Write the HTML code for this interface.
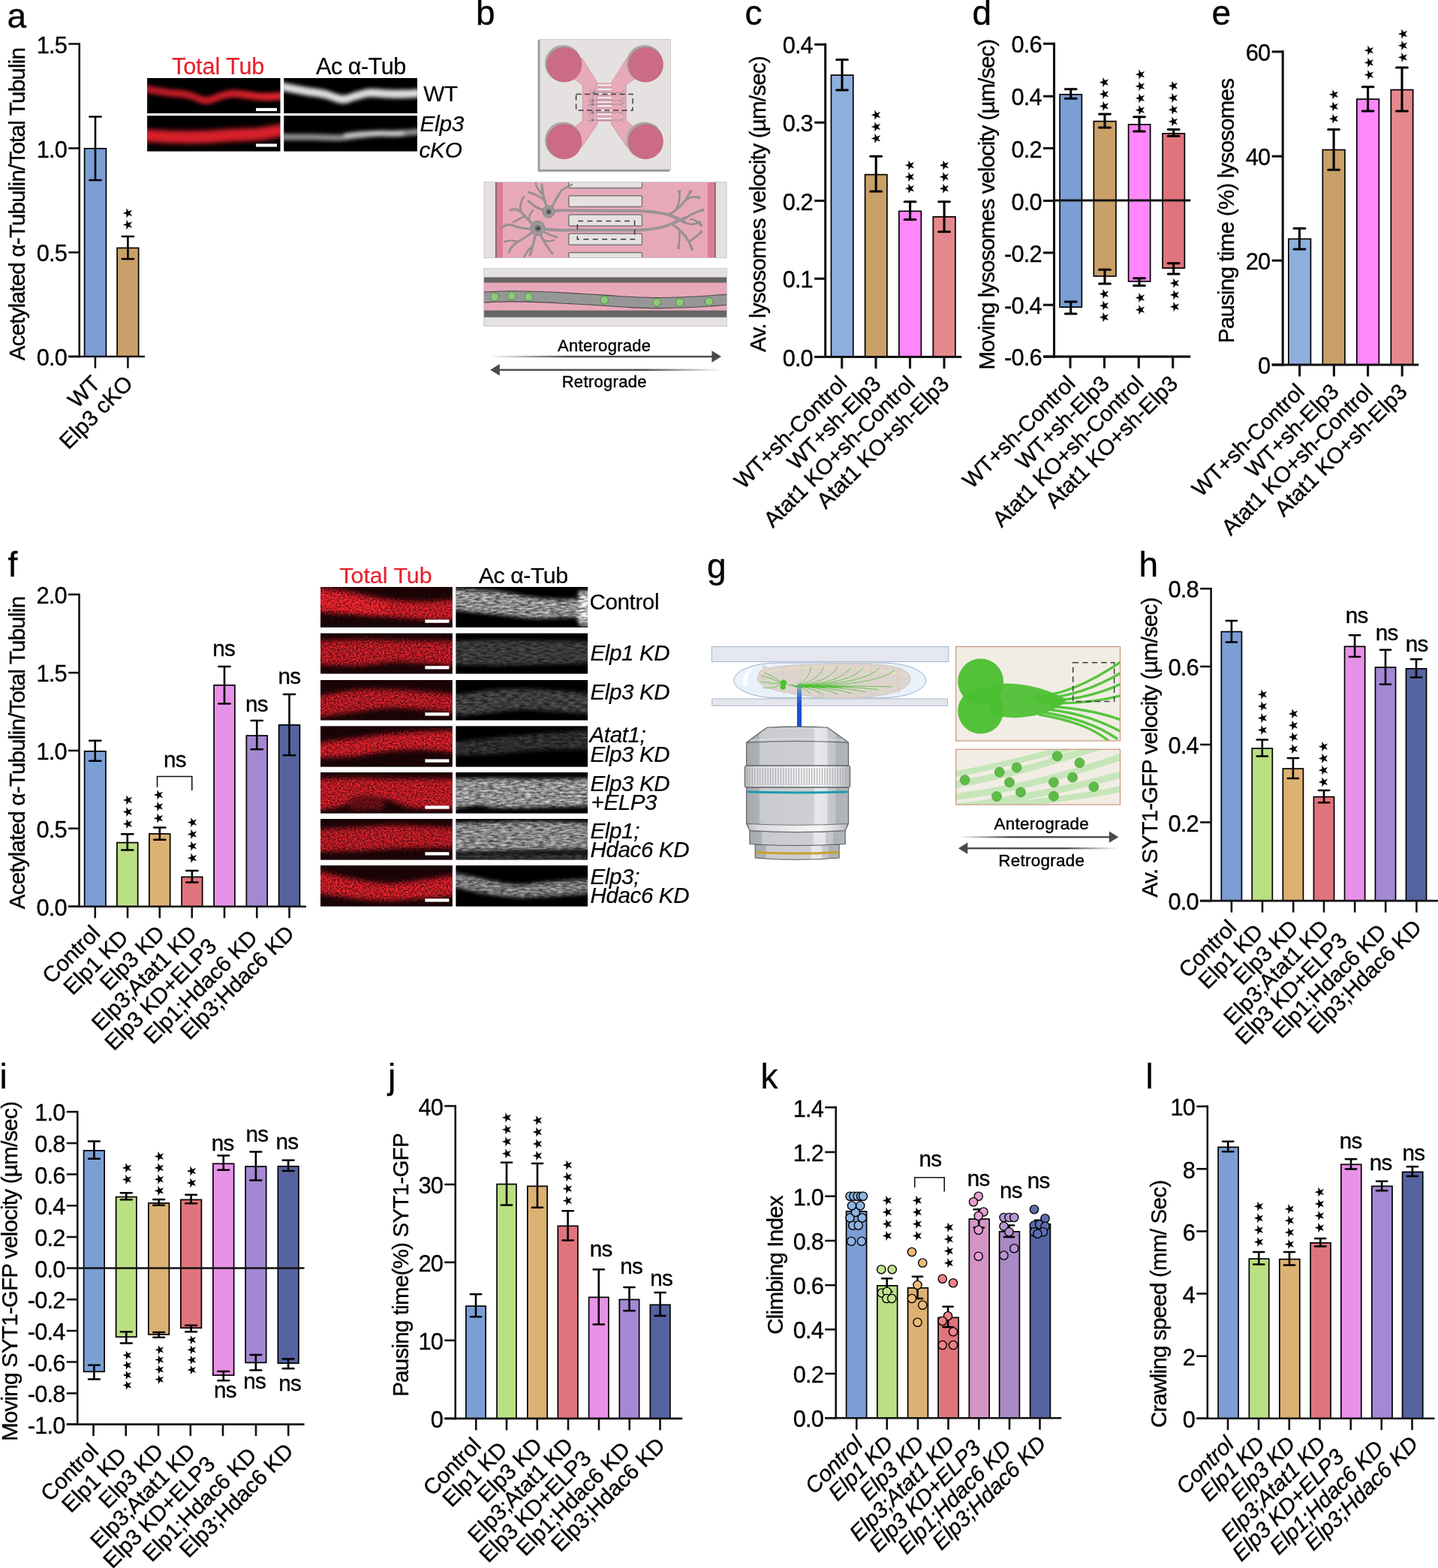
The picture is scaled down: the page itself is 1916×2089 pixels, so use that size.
<!DOCTYPE html>
<html lang="en"><head><meta charset="utf-8"><title>Figure</title>
<style>
html,body{margin:0;padding:0;background:#fff;}
body{width:1916px;height:2089px;overflow:hidden;}
svg{display:block;font-family:"Liberation Sans",sans-serif;}
text{white-space:pre;}
</style></head><body>
<svg xmlns="http://www.w3.org/2000/svg" width="1916" height="2089" viewBox="0 0 1916 2089">
<rect width="1916" height="2089" fill="#fff"/>
<defs><linearGradient id="ga1" x1="0" x2="1" y1="0" y2="0"><stop offset="0" stop-color="#b01a23"/><stop offset="0.6" stop-color="#c41d27"/><stop offset="1" stop-color="#e6222d"/></linearGradient>
<clipPath id="cp1"><rect x="196.20" y="104.10" width="177.20" height="47.00"/></clipPath>
<filter id="fx1" x="186.2" y="94.1" width="197.2" height="67.0" filterUnits="userSpaceOnUse" color-interpolation-filters="sRGB"><feGaussianBlur in="SourceGraphic" stdDeviation="2.6"/></filter>
<clipPath id="cp2"><rect x="378.40" y="104.10" width="177.40" height="47.00"/></clipPath>
<filter id="fx2" x="368.4" y="94.1" width="197.4" height="67.0" filterUnits="userSpaceOnUse" color-interpolation-filters="sRGB"><feGaussianBlur in="SourceGraphic" stdDeviation="2.8"/></filter>
<clipPath id="cp3"><rect x="196.20" y="154.30" width="177.20" height="47.20"/></clipPath>
<filter id="fx3" x="186.2" y="144.3" width="197.2" height="67.2" filterUnits="userSpaceOnUse" color-interpolation-filters="sRGB"><feGaussianBlur in="SourceGraphic" stdDeviation="3.0"/></filter>
<clipPath id="cp4"><rect x="378.40" y="154.30" width="177.40" height="47.20"/></clipPath>
<filter id="fx4" x="368.4" y="144.3" width="197.4" height="67.2" filterUnits="userSpaceOnUse" color-interpolation-filters="sRGB"><feGaussianBlur in="SourceGraphic" stdDeviation="2.6"/></filter>
<clipPath id="cp5"><rect x="427.10" y="782.10" width="175.60" height="53.60"/></clipPath>
<filter id="fx5" x="417.1" y="772.1" width="195.6" height="73.6" filterUnits="userSpaceOnUse" color-interpolation-filters="sRGB"><feGaussianBlur in="SourceGraphic" stdDeviation="3.0" result="b"/><feTurbulence type="fractalNoise" baseFrequency="0.4 0.5" numOctaves="3" seed="3" result="n"/><feColorMatrix in="n" type="matrix" values="1.5 0 0 0 -0.25  1.5 0 0 0 -0.25  1.5 0 0 0 -0.25  0 0 0 0 1" result="g"/><feComposite in="b" in2="g" operator="arithmetic" k1="1.25" k2="0.28" k3="0" k4="0"/></filter>
<clipPath id="cp6"><rect x="607.50" y="782.10" width="175.60" height="53.60"/></clipPath>
<filter id="fx6" x="597.5" y="772.1" width="195.6" height="73.6" filterUnits="userSpaceOnUse" color-interpolation-filters="sRGB"><feGaussianBlur in="SourceGraphic" stdDeviation="2.6" result="b"/><feTurbulence type="fractalNoise" baseFrequency="0.12 0.4" numOctaves="3" seed="20" result="n"/><feColorMatrix in="n" type="matrix" values="1.5 0 0 0 -0.25  1.5 0 0 0 -0.25  1.5 0 0 0 -0.25  0 0 0 0 1" result="g"/><feComposite in="b" in2="g" operator="arithmetic" k1="1.1" k2="0.45" k3="0" k4="0"/></filter>
<clipPath id="cp7"><rect x="427.10" y="843.70" width="175.60" height="53.70"/></clipPath>
<filter id="fx7" x="417.1" y="833.7" width="195.6" height="73.7" filterUnits="userSpaceOnUse" color-interpolation-filters="sRGB"><feGaussianBlur in="SourceGraphic" stdDeviation="3.0" result="b"/><feTurbulence type="fractalNoise" baseFrequency="0.4 0.5" numOctaves="3" seed="4" result="n"/><feColorMatrix in="n" type="matrix" values="1.5 0 0 0 -0.25  1.5 0 0 0 -0.25  1.5 0 0 0 -0.25  0 0 0 0 1" result="g"/><feComposite in="b" in2="g" operator="arithmetic" k1="1.25" k2="0.28" k3="0" k4="0"/></filter>
<clipPath id="cp8"><rect x="607.50" y="843.70" width="175.60" height="53.70"/></clipPath>
<filter id="fx8" x="597.5" y="833.7" width="195.6" height="73.7" filterUnits="userSpaceOnUse" color-interpolation-filters="sRGB"><feGaussianBlur in="SourceGraphic" stdDeviation="2.6" result="b"/><feTurbulence type="fractalNoise" baseFrequency="0.12 0.4" numOctaves="3" seed="21" result="n"/><feColorMatrix in="n" type="matrix" values="1.5 0 0 0 -0.25  1.5 0 0 0 -0.25  1.5 0 0 0 -0.25  0 0 0 0 1" result="g"/><feComposite in="b" in2="g" operator="arithmetic" k1="1.1" k2="0.45" k3="0" k4="0"/></filter>
<clipPath id="cp9"><rect x="427.10" y="905.90" width="175.60" height="53.60"/></clipPath>
<filter id="fx9" x="417.1" y="895.9" width="195.6" height="73.6" filterUnits="userSpaceOnUse" color-interpolation-filters="sRGB"><feGaussianBlur in="SourceGraphic" stdDeviation="3.0" result="b"/><feTurbulence type="fractalNoise" baseFrequency="0.4 0.5" numOctaves="3" seed="5" result="n"/><feColorMatrix in="n" type="matrix" values="1.5 0 0 0 -0.25  1.5 0 0 0 -0.25  1.5 0 0 0 -0.25  0 0 0 0 1" result="g"/><feComposite in="b" in2="g" operator="arithmetic" k1="1.25" k2="0.28" k3="0" k4="0"/></filter>
<clipPath id="cp10"><rect x="607.50" y="905.90" width="175.60" height="53.60"/></clipPath>
<filter id="fx10" x="597.5" y="895.9" width="195.6" height="73.6" filterUnits="userSpaceOnUse" color-interpolation-filters="sRGB"><feGaussianBlur in="SourceGraphic" stdDeviation="2.6" result="b"/><feTurbulence type="fractalNoise" baseFrequency="0.12 0.4" numOctaves="3" seed="22" result="n"/><feColorMatrix in="n" type="matrix" values="1.5 0 0 0 -0.25  1.5 0 0 0 -0.25  1.5 0 0 0 -0.25  0 0 0 0 1" result="g"/><feComposite in="b" in2="g" operator="arithmetic" k1="1.1" k2="0.45" k3="0" k4="0"/></filter>
<clipPath id="cp11"><rect x="427.10" y="967.40" width="175.60" height="54.20"/></clipPath>
<filter id="fx11" x="417.1" y="957.4" width="195.6" height="74.2" filterUnits="userSpaceOnUse" color-interpolation-filters="sRGB"><feGaussianBlur in="SourceGraphic" stdDeviation="3.0" result="b"/><feTurbulence type="fractalNoise" baseFrequency="0.4 0.5" numOctaves="3" seed="6" result="n"/><feColorMatrix in="n" type="matrix" values="1.5 0 0 0 -0.25  1.5 0 0 0 -0.25  1.5 0 0 0 -0.25  0 0 0 0 1" result="g"/><feComposite in="b" in2="g" operator="arithmetic" k1="1.25" k2="0.28" k3="0" k4="0"/></filter>
<clipPath id="cp12"><rect x="607.50" y="967.40" width="175.60" height="54.20"/></clipPath>
<filter id="fx12" x="597.5" y="957.4" width="195.6" height="74.2" filterUnits="userSpaceOnUse" color-interpolation-filters="sRGB"><feGaussianBlur in="SourceGraphic" stdDeviation="2.6" result="b"/><feTurbulence type="fractalNoise" baseFrequency="0.12 0.4" numOctaves="3" seed="23" result="n"/><feColorMatrix in="n" type="matrix" values="1.5 0 0 0 -0.25  1.5 0 0 0 -0.25  1.5 0 0 0 -0.25  0 0 0 0 1" result="g"/><feComposite in="b" in2="g" operator="arithmetic" k1="1.1" k2="0.45" k3="0" k4="0"/></filter>
<clipPath id="cp13"><rect x="427.10" y="1029.00" width="175.60" height="54.60"/></clipPath>
<filter id="fx13" x="417.1" y="1019.0" width="195.6" height="74.6" filterUnits="userSpaceOnUse" color-interpolation-filters="sRGB"><feGaussianBlur in="SourceGraphic" stdDeviation="3.0" result="b"/><feTurbulence type="fractalNoise" baseFrequency="0.4 0.5" numOctaves="3" seed="7" result="n"/><feColorMatrix in="n" type="matrix" values="1.5 0 0 0 -0.25  1.5 0 0 0 -0.25  1.5 0 0 0 -0.25  0 0 0 0 1" result="g"/><feComposite in="b" in2="g" operator="arithmetic" k1="1.25" k2="0.28" k3="0" k4="0"/></filter>
<clipPath id="cp14"><rect x="607.50" y="1029.00" width="175.60" height="54.60"/></clipPath>
<filter id="fx14" x="597.5" y="1019.0" width="195.6" height="74.6" filterUnits="userSpaceOnUse" color-interpolation-filters="sRGB"><feGaussianBlur in="SourceGraphic" stdDeviation="2.6" result="b"/><feTurbulence type="fractalNoise" baseFrequency="0.12 0.4" numOctaves="3" seed="24" result="n"/><feColorMatrix in="n" type="matrix" values="1.5 0 0 0 -0.25  1.5 0 0 0 -0.25  1.5 0 0 0 -0.25  0 0 0 0 1" result="g"/><feComposite in="b" in2="g" operator="arithmetic" k1="1.1" k2="0.45" k3="0" k4="0"/></filter>
<clipPath id="cp15"><rect x="427.10" y="1091.00" width="175.60" height="54.40"/></clipPath>
<filter id="fx15" x="417.1" y="1081.0" width="195.6" height="74.4" filterUnits="userSpaceOnUse" color-interpolation-filters="sRGB"><feGaussianBlur in="SourceGraphic" stdDeviation="3.0" result="b"/><feTurbulence type="fractalNoise" baseFrequency="0.4 0.5" numOctaves="3" seed="8" result="n"/><feColorMatrix in="n" type="matrix" values="1.5 0 0 0 -0.25  1.5 0 0 0 -0.25  1.5 0 0 0 -0.25  0 0 0 0 1" result="g"/><feComposite in="b" in2="g" operator="arithmetic" k1="1.25" k2="0.28" k3="0" k4="0"/></filter>
<clipPath id="cp16"><rect x="607.50" y="1091.00" width="175.60" height="54.40"/></clipPath>
<filter id="fx16" x="597.5" y="1081.0" width="195.6" height="74.4" filterUnits="userSpaceOnUse" color-interpolation-filters="sRGB"><feGaussianBlur in="SourceGraphic" stdDeviation="2.6" result="b"/><feTurbulence type="fractalNoise" baseFrequency="0.12 0.4" numOctaves="3" seed="25" result="n"/><feColorMatrix in="n" type="matrix" values="1.5 0 0 0 -0.25  1.5 0 0 0 -0.25  1.5 0 0 0 -0.25  0 0 0 0 1" result="g"/><feComposite in="b" in2="g" operator="arithmetic" k1="1.1" k2="0.45" k3="0" k4="0"/></filter>
<clipPath id="cp17"><rect x="427.10" y="1153.00" width="175.60" height="54.40"/></clipPath>
<filter id="fx17" x="417.1" y="1143.0" width="195.6" height="74.4" filterUnits="userSpaceOnUse" color-interpolation-filters="sRGB"><feGaussianBlur in="SourceGraphic" stdDeviation="3.0" result="b"/><feTurbulence type="fractalNoise" baseFrequency="0.4 0.5" numOctaves="3" seed="9" result="n"/><feColorMatrix in="n" type="matrix" values="1.5 0 0 0 -0.25  1.5 0 0 0 -0.25  1.5 0 0 0 -0.25  0 0 0 0 1" result="g"/><feComposite in="b" in2="g" operator="arithmetic" k1="1.25" k2="0.28" k3="0" k4="0"/></filter>
<clipPath id="cp18"><rect x="607.50" y="1153.00" width="175.60" height="54.40"/></clipPath>
<filter id="fx18" x="597.5" y="1143.0" width="195.6" height="74.4" filterUnits="userSpaceOnUse" color-interpolation-filters="sRGB"><feGaussianBlur in="SourceGraphic" stdDeviation="2.6" result="b"/><feTurbulence type="fractalNoise" baseFrequency="0.12 0.4" numOctaves="3" seed="26" result="n"/><feColorMatrix in="n" type="matrix" values="1.5 0 0 0 -0.25  1.5 0 0 0 -0.25  1.5 0 0 0 -0.25  0 0 0 0 1" result="g"/><feComposite in="b" in2="g" operator="arithmetic" k1="1.1" k2="0.45" k3="0" k4="0"/></filter>
<clipPath id="cpb2"><rect x="645.1" y="242.7" width="322.9" height="100.80000000000001"/></clipPath>
<clipPath id="cpb3"><rect x="644.7" y="357.5" width="323.79999999999995" height="77.10000000000002"/></clipPath>
<linearGradient id="gar1" x1="0" x2="1" y1="0" y2="0"><stop offset="0" stop-color="#4a4a4a" stop-opacity="0"/><stop offset="0.35" stop-color="#4a4a4a" stop-opacity="1"/><stop offset="1" stop-color="#4a4a4a"/></linearGradient>
<linearGradient id="gar2" x1="1" x2="0" y1="0" y2="0"><stop offset="0" stop-color="#4a4a4a" stop-opacity="0"/><stop offset="0.35" stop-color="#4a4a4a" stop-opacity="1"/><stop offset="1" stop-color="#4a4a4a"/></linearGradient>
<linearGradient id="gbeam" x1="0" x2="0" y1="0" y2="1"><stop offset="0" stop-color="#6fae8f" stop-opacity="0.6"/><stop offset="0.28" stop-color="#3f74d8"/><stop offset="0.45" stop-color="#1e4fd0"/><stop offset="1" stop-color="#1e4fd0"/></linearGradient>
<linearGradient id="gobj" x1="0" x2="1" y1="0" y2="0"><stop offset="0" stop-color="#a6a9ad"/><stop offset="0.12" stop-color="#adb0b4"/><stop offset="0.135" stop-color="#c9cbcf"/><stop offset="0.66" stop-color="#cdcfd2"/><stop offset="0.675" stop-color="#e8e9eb"/><stop offset="0.79" stop-color="#e2e3e6"/><stop offset="0.80" stop-color="#c6c8cc"/><stop offset="0.87" stop-color="#c2c4c8"/><stop offset="0.88" stop-color="#aeb1b5"/><stop offset="1" stop-color="#b3b6ba"/></linearGradient>
<linearGradient id="gobj2" x1="0" x2="1" y1="0" y2="0"><stop offset="0" stop-color="#b9bbbf"/><stop offset="0.1" stop-color="#d9dadd"/><stop offset="0.5" stop-color="#eeeeef"/><stop offset="0.72" stop-color="#f6f6f7"/><stop offset="0.9" stop-color="#d4d5d8"/><stop offset="1" stop-color="#b4b6ba"/></linearGradient>
<clipPath id="cpg1"><rect x="1273.7" y="861.5" width="218.8" height="125.5"/></clipPath>
<clipPath id="cpg2"><rect x="1273.7" y="998.3" width="218.8" height="73.7"/></clipPath></defs>
<g clip-path="url(#cp1)"><rect x="196.20" y="104.10" width="177.20" height="47.00" fill="#000"/><g filter="url(#fx1)">
<rect x="184.20" y="92.10" width="201.20" height="71.00" fill="#000"/>
<path d="M187.34 112.09 C193.25 113.11 212.44 116.71 222.78 118.20 C233.12 119.69 240.80 119.26 249.36 121.02 C257.92 122.78 266.93 128.38 274.17 128.78 C281.40 129.17 286.87 124.90 292.77 123.37 C298.68 121.84 303.26 119.88 309.61 119.61 C315.96 119.34 323.78 121.02 330.87 121.72 C337.96 122.43 343.57 123.72 352.14 123.84 C360.70 123.96 377.24 122.66 382.26 122.43 L382.26 132.77 C377.24 133.00 360.70 134.30 352.14 134.18 C343.57 134.06 337.96 132.77 330.87 132.06 C323.78 131.36 315.96 129.68 309.61 129.95 C303.26 130.22 298.68 132.18 292.77 133.71 C286.87 135.24 281.40 139.51 274.17 139.12 C266.93 138.72 257.92 133.12 249.36 131.36 C240.80 129.60 233.12 130.03 222.78 128.54 C212.44 127.05 193.25 123.45 187.34 122.43 Z" fill="url(#ga1)"/>

</g></g>
<g clip-path="url(#cp2)"><rect x="378.40" y="104.10" width="177.40" height="47.00" fill="#000"/><g filter="url(#fx2)">
<rect x="366.40" y="92.10" width="201.40" height="71.00" fill="#000"/>
<path d="M369.53 108.80 C375.44 109.90 394.66 113.58 405.01 115.38 C415.36 117.18 423.05 117.73 431.62 119.61 C440.19 121.49 449.21 126.27 456.46 126.66 C463.70 127.05 469.17 123.37 475.08 121.96 C481.00 120.55 485.58 118.67 491.94 118.20 C498.29 117.73 506.13 118.91 513.22 119.14 C520.32 119.38 525.94 119.77 534.51 119.61 C543.09 119.45 559.64 118.43 564.67 118.20 L564.67 129.48 C559.64 129.71 543.09 130.73 534.51 130.89 C525.94 131.05 520.32 130.65 513.22 130.42 C506.13 130.19 498.29 129.01 491.94 129.48 C485.58 129.95 481.00 131.83 475.08 133.24 C469.17 134.65 463.70 138.33 456.46 137.94 C449.21 137.55 440.19 132.77 431.62 130.89 C423.05 129.01 415.36 128.46 405.01 126.66 C394.66 124.86 375.44 121.18 369.53 120.08 Z" fill="#dcdcdc"/>

</g></g>
<g clip-path="url(#cp3)"><rect x="196.20" y="154.30" width="177.20" height="47.20" fill="#000"/><g filter="url(#fx3)">
<rect x="184.20" y="142.30" width="201.20" height="71.20" fill="#000"/>
<path d="M187.34 171.76 C194.72 172.16 218.35 173.73 231.64 174.12 C244.93 174.52 255.27 174.48 267.08 174.12 C278.89 173.77 291.89 172.55 302.52 172.00 C313.15 171.45 322.60 171.33 330.87 170.82 C339.14 170.31 343.57 170.11 352.14 168.93 C360.70 167.75 377.24 164.61 382.26 163.74 L382.26 180.73 C377.24 181.60 360.70 184.74 352.14 185.92 C343.57 187.10 339.14 187.30 330.87 187.81 C322.60 188.32 313.15 188.44 302.52 188.99 C291.89 189.54 278.89 190.76 267.08 191.12 C255.27 191.47 244.93 191.51 231.64 191.12 C218.35 190.72 194.72 189.15 187.34 188.76 Z" fill="#d8202b"/>

</g></g>
<g clip-path="url(#cp4)"><rect x="378.40" y="154.30" width="177.40" height="47.20" fill="#000"/><g filter="url(#fx4)">
<rect x="366.40" y="142.30" width="201.40" height="71.20" fill="#000"/>
<path d="M369.53 178.37 C376.92 178.37 400.57 178.21 413.88 178.37 C427.19 178.53 439.01 179.63 449.36 179.32 C459.71 179.00 467.10 177.43 475.97 176.48 C484.84 175.54 493.71 174.12 502.58 173.65 C511.45 173.18 518.84 174.12 529.19 173.65 C539.54 173.18 558.76 171.29 564.67 170.82 L564.67 179.32 C558.76 179.79 539.54 181.68 529.19 182.15 C518.84 182.62 511.45 181.68 502.58 182.15 C493.71 182.62 484.84 184.04 475.97 184.98 C467.10 185.92 459.71 187.50 449.36 187.81 C439.01 188.13 427.19 187.03 413.88 186.87 C400.57 186.71 376.92 186.87 369.53 186.87 Z" fill="#909090"/>
<path d="M458.23 177.90 C462.66 177.43 474.49 175.54 484.84 175.07 C495.19 174.60 511.45 175.07 520.32 175.07 C529.19 175.07 535.10 175.07 538.06 175.07 L538.06 180.73 C535.10 180.73 529.19 180.73 520.32 180.73 C511.45 180.73 495.19 180.26 484.84 180.73 C474.49 181.20 462.66 183.09 458.23 183.56 Z" fill="#d0d0d0"/>

</g></g>
<rect x="341.00" y="143.90" width="28.00" height="4.10" fill="#fff" stroke="none" stroke-width="0"/>
<rect x="341.00" y="191.50" width="28.00" height="4.10" fill="#fff" stroke="none" stroke-width="0"/>
<text text-anchor="start" fill="#e8212b" stroke="#e8212b" stroke-width="0.2" style="font-size:30.6px;letter-spacing:-0.1px;" transform="translate(229.00 99.40)">Total Tub</text>
<text text-anchor="start" fill="#000" stroke="#000" stroke-width="0.2" style="font-size:30.6px;letter-spacing:-0.5px;" transform="translate(421.00 99.40)">Ac α-Tub</text>
<text text-anchor="start" fill="#000" stroke="#000" stroke-width="0.2" style="font-size:29.8px;letter-spacing:-0.5px;" transform="translate(564.30 135.00)">WT</text>
<text text-anchor="start" fill="#000" stroke="#000" stroke-width="0.2" style="font-size:29.8px;letter-spacing:-0.3px;font-style:italic;" transform="translate(559.50 174.50)">Elp3</text>
<text text-anchor="start" fill="#000" stroke="#000" stroke-width="0.2" style="font-size:29.8px;letter-spacing:-0.3px;font-style:italic;" transform="translate(558.50 210.00)">cKO</text>
<g clip-path="url(#cp5)"><rect x="427.10" y="782.10" width="175.60" height="53.60" fill="#000"/><g filter="url(#fx5)">
<rect x="415.10" y="770.10" width="199.60" height="77.60" fill="#1c0406"/>
<path d="M418.32 782.10 C425.64 782.99 446.12 784.78 462.22 787.46 C478.32 790.14 497.34 795.86 514.90 798.18 C532.46 800.50 551.48 801.40 567.58 801.40 C583.68 801.40 604.16 798.72 611.48 798.18 L611.48 824.98 C605.63 825.16 589.53 826.41 576.36 826.05 C563.19 825.69 548.56 823.91 532.46 822.84 C516.36 821.76 498.80 820.87 479.78 819.62 C460.76 818.37 428.56 816.05 418.32 815.33 Z" fill="#c81d27"/>
<path d="M418.32 790.14 C425.64 791.03 446.12 793.09 462.22 795.50 C478.32 797.91 506.12 803.09 514.90 804.61 L514.90 818.55 C506.12 817.83 478.32 815.87 462.22 814.26 C446.12 812.65 425.64 809.79 418.32 808.90 Z" fill="#e8222d"/>

</g></g>
<g clip-path="url(#cp6)"><rect x="607.50" y="782.10" width="175.60" height="53.60" fill="#000"/><g filter="url(#fx6)">
<rect x="595.50" y="770.10" width="199.60" height="77.60" fill="#000"/>
<path d="M598.72 784.24 C608.96 784.78 641.16 785.49 660.18 787.46 C679.20 789.43 695.30 794.25 712.86 796.04 C730.42 797.82 752.37 798.72 765.54 798.18 C778.71 797.64 787.49 793.71 791.88 792.82 L791.88 830.34 C787.49 829.09 778.71 823.91 765.54 822.84 C752.37 821.76 730.42 824.62 712.86 823.91 C695.30 823.19 679.20 820.51 660.18 818.55 C641.16 816.58 608.96 813.19 598.72 812.12 Z" fill="#8c8c8c"/>
<path d="M770.81 787.46 L786.61 787.46 L786.61 833.02 L770.81 833.02 Z" fill="#c0c0c0"/>

</g></g>
<rect x="566.40" y="825.50" width="32.00" height="4.30" fill="#fff" stroke="none" stroke-width="0"/>
<g clip-path="url(#cp7)"><rect x="427.10" y="843.70" width="175.60" height="53.70" fill="#000"/><g filter="url(#fx7)">
<rect x="415.10" y="831.70" width="199.60" height="77.70" fill="#1c0406"/>
<path d="M418.32 854.44 C428.56 854.08 460.76 852.47 479.78 852.29 C498.80 852.11 510.51 853.01 532.46 853.37 C554.41 853.72 598.31 854.26 611.48 854.44 L611.48 887.73 C598.31 886.84 554.41 882.54 532.46 882.36 C510.51 882.19 498.80 886.12 479.78 886.66 C460.76 887.20 428.56 885.76 418.32 885.59 Z" fill="#b81b25"/>

</g></g>
<g clip-path="url(#cp8)"><rect x="607.50" y="843.70" width="175.60" height="53.70" fill="#000"/><g filter="url(#fx8)">
<rect x="595.50" y="831.70" width="199.60" height="77.70" fill="#000"/>
<path d="M598.72 854.44 C608.96 854.08 641.16 852.47 660.18 852.29 C679.20 852.11 690.91 853.01 712.86 853.37 C734.81 853.72 778.71 854.26 791.88 854.44 L791.88 883.44 C778.71 883.80 734.81 885.05 712.86 885.59 C690.91 886.12 679.20 886.66 660.18 886.66 C641.16 886.66 608.96 885.76 598.72 885.59 Z" fill="#383838"/>

</g></g>
<rect x="566.40" y="887.20" width="32.00" height="4.30" fill="#fff" stroke="none" stroke-width="0"/>
<g clip-path="url(#cp9)"><rect x="427.10" y="905.90" width="175.60" height="53.60" fill="#000"/><g filter="url(#fx9)">
<rect x="415.10" y="893.90" width="199.60" height="77.60" fill="#1c0406"/>
<path d="M418.32 928.41 C427.10 926.98 454.90 921.44 471.00 919.84 C487.10 918.23 500.27 918.59 514.90 918.76 C529.53 918.94 542.70 919.84 558.80 920.91 C574.90 921.98 602.70 924.48 611.48 925.20 L611.48 949.85 C602.70 948.96 574.90 945.56 558.80 944.49 C542.70 943.42 531.00 942.53 514.90 943.42 C498.80 944.31 478.32 947.62 462.22 949.85 C446.12 952.09 425.64 955.66 418.32 956.82 Z" fill="#b81b25"/>

</g></g>
<g clip-path="url(#cp10)"><rect x="607.50" y="905.90" width="175.60" height="53.60" fill="#000"/><g filter="url(#fx10)">
<rect x="595.50" y="893.90" width="199.60" height="77.60" fill="#000"/>
<path d="M598.72 927.34 C607.50 926.09 635.30 921.44 651.40 919.84 C667.50 918.23 680.67 917.69 695.30 917.69 C709.93 917.69 723.10 918.76 739.20 919.84 C755.30 920.91 783.10 923.41 791.88 924.12 L791.88 952.00 C783.10 951.28 755.30 948.78 739.20 947.71 C723.10 946.64 711.40 945.03 695.30 945.56 C679.20 946.10 658.72 949.49 642.62 950.92 C626.52 952.35 606.04 953.60 598.72 954.14 Z" fill="#3c3c3c"/>

</g></g>
<rect x="566.40" y="949.30" width="32.00" height="4.30" fill="#fff" stroke="none" stroke-width="0"/>
<g clip-path="url(#cp11)"><rect x="427.10" y="967.40" width="175.60" height="54.20" fill="#000"/><g filter="url(#fx11)">
<rect x="415.10" y="955.40" width="199.60" height="78.20" fill="#1c0406"/>
<path d="M418.32 990.16 C427.10 989.08 454.90 985.65 471.00 983.66 C487.10 981.67 500.27 979.69 514.90 978.24 C529.53 976.79 542.70 975.89 558.80 974.99 C574.90 974.08 602.70 973.18 611.48 972.82 L611.48 1003.17 C602.70 1002.45 574.90 999.20 558.80 998.84 C542.70 998.47 529.53 999.56 514.90 1001.00 C500.27 1002.45 487.10 1006.06 471.00 1007.51 C454.90 1008.95 427.10 1009.31 418.32 1009.68 Z" fill="#c81d27"/>

</g></g>
<g clip-path="url(#cp12)"><rect x="607.50" y="967.40" width="175.60" height="54.20" fill="#000"/><g filter="url(#fx12)">
<rect x="595.50" y="955.40" width="199.60" height="78.20" fill="#000"/>
<path d="M598.72 989.08 C607.50 988.18 635.30 985.29 651.40 983.66 C667.50 982.03 680.67 980.59 695.30 979.32 C709.93 978.06 723.10 977.34 739.20 976.07 C755.30 974.81 783.10 972.46 791.88 971.74 L791.88 997.75 C783.10 997.93 755.30 998.29 739.20 998.84 C723.10 999.38 709.93 999.92 695.30 1001.00 C680.67 1002.09 667.50 1004.44 651.40 1005.34 C635.30 1006.24 607.50 1006.24 598.72 1006.42 Z" fill="#2c2c2c"/>

</g></g>
<rect x="566.40" y="1011.40" width="32.00" height="4.30" fill="#fff" stroke="none" stroke-width="0"/>
<g clip-path="url(#cp13)"><rect x="427.10" y="1029.00" width="175.60" height="54.60" fill="#000"/><g filter="url(#fx13)">
<rect x="415.10" y="1017.00" width="199.60" height="78.60" fill="#1c0406"/>
<path d="M418.32 1037.74 C428.56 1037.55 460.76 1036.64 479.78 1036.64 C498.80 1036.64 510.51 1037.55 532.46 1037.74 C554.41 1037.92 598.31 1037.74 611.48 1037.74 L611.48 1077.05 C601.24 1076.87 566.12 1077.96 550.02 1075.96 C533.92 1073.95 526.61 1067.40 514.90 1065.04 C503.19 1062.67 489.15 1060.49 479.78 1061.76 C470.41 1063.03 468.95 1069.50 458.71 1072.68 C448.46 1075.87 425.05 1079.50 418.32 1080.87 Z" fill="#c01c26"/>
<path d="M465.73 1062.85 C469.54 1062.31 480.95 1059.58 488.56 1059.58 C496.17 1059.58 507.58 1062.31 511.39 1062.85 L511.39 1078.14 C507.58 1078.32 496.17 1079.23 488.56 1079.23 C480.95 1079.23 469.54 1078.32 465.73 1078.14 Z" fill="#6a1016"/>

</g></g>
<g clip-path="url(#cp14)"><rect x="607.50" y="1029.00" width="175.60" height="54.60" fill="#000"/><g filter="url(#fx14)">
<rect x="595.50" y="1017.00" width="199.60" height="78.60" fill="#000"/>
<path d="M598.72 1037.74 C608.96 1037.55 641.16 1036.64 660.18 1036.64 C679.20 1036.64 690.91 1037.74 712.86 1037.74 C734.81 1037.74 778.71 1036.83 791.88 1036.64 L791.88 1073.77 C778.71 1074.14 734.81 1075.59 712.86 1075.96 C690.91 1076.32 673.35 1076.50 660.18 1075.96 C647.01 1075.41 644.08 1072.13 633.84 1072.68 C623.60 1073.23 604.57 1078.14 598.72 1079.23 Z" fill="#8e8e8e"/>

</g></g>
<rect x="566.40" y="1073.40" width="32.00" height="4.30" fill="#fff" stroke="none" stroke-width="0"/>
<g clip-path="url(#cp15)"><rect x="427.10" y="1091.00" width="175.60" height="54.40" fill="#000"/><g filter="url(#fx15)">
<rect x="415.10" y="1079.00" width="199.60" height="78.40" fill="#1c0406"/>
<path d="M418.32 1105.14 C428.56 1104.60 460.76 1102.79 479.78 1101.88 C498.80 1100.97 510.51 1099.52 532.46 1099.70 C554.41 1099.89 598.31 1102.42 611.48 1102.97 L611.48 1129.08 C598.31 1129.26 554.41 1129.44 532.46 1130.17 C510.51 1130.89 498.80 1132.71 479.78 1133.43 C460.76 1134.16 428.56 1134.34 418.32 1134.52 Z" fill="#b81b25"/>

</g></g>
<g clip-path="url(#cp16)"><rect x="607.50" y="1091.00" width="175.60" height="54.40" fill="#000"/><g filter="url(#fx16)">
<rect x="595.50" y="1079.00" width="199.60" height="78.40" fill="#000"/>
<path d="M598.72 1096.44 C608.96 1096.26 641.16 1095.71 660.18 1095.35 C679.20 1094.99 690.91 1094.08 712.86 1094.26 C734.81 1094.45 778.71 1096.08 791.88 1096.44 L791.88 1131.26 C778.71 1131.44 734.81 1131.98 712.86 1132.34 C690.91 1132.71 679.20 1133.07 660.18 1133.43 C641.16 1133.79 608.96 1134.34 598.72 1134.52 Z" fill="#868686"/>
<path d="M598.72 1137.78 L791.88 1136.70 L791.88 1148.12 L598.72 1148.12 Z" fill="#303030"/>

</g></g>
<rect x="566.40" y="1135.20" width="32.00" height="4.30" fill="#fff" stroke="none" stroke-width="0"/>
<g clip-path="url(#cp17)"><rect x="427.10" y="1153.00" width="175.60" height="54.40" fill="#000"/><g filter="url(#fx17)">
<rect x="415.10" y="1141.00" width="199.60" height="78.40" fill="#1c0406"/>
<path d="M418.32 1158.44 C425.64 1160.25 446.12 1166.24 462.22 1169.32 C478.32 1172.40 497.34 1176.57 514.90 1176.94 C532.46 1177.30 551.48 1173.49 567.58 1171.50 C583.68 1169.50 604.16 1166.06 611.48 1164.97 L611.48 1192.17 C604.16 1192.89 583.68 1195.25 567.58 1196.52 C551.48 1197.79 532.46 1199.97 514.90 1199.78 C497.34 1199.60 478.32 1197.25 462.22 1195.43 C446.12 1193.62 425.64 1189.99 418.32 1188.90 Z" fill="#c81d27"/>

</g></g>
<g clip-path="url(#cp18)"><rect x="607.50" y="1153.00" width="175.60" height="54.40" fill="#000"/><g filter="url(#fx18)">
<rect x="595.50" y="1141.00" width="199.60" height="78.40" fill="#000"/>
<path d="M598.72 1160.62 C606.04 1162.25 627.99 1167.51 642.62 1170.41 C657.25 1173.31 671.89 1177.30 686.52 1178.02 C701.15 1178.75 712.86 1176.03 730.42 1174.76 C747.98 1173.49 781.64 1171.13 791.88 1170.41 L791.88 1189.99 C781.64 1190.72 747.98 1193.44 730.42 1194.34 C712.86 1195.25 701.15 1196.16 686.52 1195.43 C671.89 1194.71 657.25 1192.53 642.62 1189.99 C627.99 1187.45 606.04 1181.83 598.72 1180.20 Z" fill="#787878"/>

</g></g>
<rect x="566.40" y="1197.20" width="32.00" height="4.30" fill="#fff" stroke="none" stroke-width="0"/>
<text text-anchor="start" fill="#e8212b" stroke="#e8212b" stroke-width="0.2" style="font-size:30.4px;letter-spacing:0.0px;" transform="translate(452.30 777.30)">Total Tub</text>
<text text-anchor="start" fill="#000" stroke="#000" stroke-width="0.2" style="font-size:30.4px;letter-spacing:-0.5px;" transform="translate(637.80 777.30)">Ac α-Tub</text>
<text text-anchor="start" fill="#000" stroke="#000" stroke-width="0.2" style="font-size:29.6px;letter-spacing:-0.4px;" transform="translate(785.50 812.30)">Control</text>
<text text-anchor="start" fill="#000" stroke="#000" stroke-width="0.2" style="font-size:29.6px;letter-spacing:-0.4px;font-style:italic;" transform="translate(786.50 880.00)">Elp1 KD</text>
<text text-anchor="start" fill="#000" stroke="#000" stroke-width="0.2" style="font-size:29.6px;letter-spacing:-0.4px;font-style:italic;" transform="translate(786.50 932.10)">Elp3 KD</text>
<text text-anchor="start" fill="#000" stroke="#000" stroke-width="0.2" style="font-size:29.6px;letter-spacing:-0.4px;font-style:italic;" transform="translate(785.50 989.00)">Atat1;</text>
<text text-anchor="start" fill="#000" stroke="#000" stroke-width="0.2" style="font-size:29.6px;letter-spacing:-0.4px;font-style:italic;" transform="translate(786.50 1015.30)">Elp3 KD</text>
<text text-anchor="start" fill="#000" stroke="#000" stroke-width="0.2" style="font-size:29.6px;letter-spacing:-0.4px;font-style:italic;" transform="translate(786.50 1053.50)">Elp3 KD</text>
<text text-anchor="start" fill="#000" stroke="#000" stroke-width="0.2" style="font-size:29.6px;letter-spacing:-0.4px;font-style:italic;" transform="translate(787.50 1079.30)">+ELP3</text>
<text text-anchor="start" fill="#000" stroke="#000" stroke-width="0.2" style="font-size:29.6px;letter-spacing:-0.4px;font-style:italic;" transform="translate(786.50 1116.50)">Elp1;</text>
<text text-anchor="start" fill="#000" stroke="#000" stroke-width="0.2" style="font-size:29.6px;letter-spacing:-0.4px;font-style:italic;" transform="translate(786.50 1142.00)">Hdac6 KD</text>
<text text-anchor="start" fill="#000" stroke="#000" stroke-width="0.2" style="font-size:29.6px;letter-spacing:-0.4px;font-style:italic;" transform="translate(786.50 1178.20)">Elp3;</text>
<text text-anchor="start" fill="#000" stroke="#000" stroke-width="0.2" style="font-size:29.6px;letter-spacing:-0.4px;font-style:italic;" transform="translate(786.50 1203.10)">Hdac6 KD</text>
<path d="M716.6 53.9 L719.6 52.4 L719.6 225.8 L893.6 225.8 L891.6 228.8 L716.6 228.8 Z" fill="#9a9898" stroke="none" stroke-width="1"/>
<rect x="719.60" y="52.40" width="174.00" height="173.40" fill="#e5e1e0" stroke="#b9b6b6" stroke-width="0.6"/>
<polygon points="763.00,104.00 776.30,113.00 776.30,160.50 763.00,172.00 775.00,196.00 795.80,165.50 795.80,110.00 775.00,77.00" fill="#e8aabb" stroke="#c9879b" stroke-width="0.7"/>
<polygon points="847.50,104.00 834.20,113.00 834.20,160.50 847.50,172.00 835.50,196.00 814.70,165.50 814.70,110.00 835.50,77.00" fill="#e8aabb" stroke="#c9879b" stroke-width="0.7"/>
<rect x="795.80" y="110.50" width="19.50" height="51.50" fill="#e59fb3" stroke="none" stroke-width="0"/>
<rect x="795.80" y="112.00" width="19.50" height="3.00" fill="#f3eeee" stroke="#b58a96" stroke-width="0.4"/>
<rect x="795.80" y="117.55" width="19.50" height="3.00" fill="#f3eeee" stroke="#b58a96" stroke-width="0.4"/>
<rect x="795.80" y="123.10" width="19.50" height="3.00" fill="#f3eeee" stroke="#b58a96" stroke-width="0.4"/>
<rect x="795.80" y="128.65" width="19.50" height="3.00" fill="#f3eeee" stroke="#b58a96" stroke-width="0.4"/>
<rect x="795.80" y="134.20" width="19.50" height="3.00" fill="#f3eeee" stroke="#b58a96" stroke-width="0.4"/>
<rect x="795.80" y="139.75" width="19.50" height="3.00" fill="#f3eeee" stroke="#b58a96" stroke-width="0.4"/>
<rect x="795.80" y="145.30" width="19.50" height="3.00" fill="#f3eeee" stroke="#b58a96" stroke-width="0.4"/>
<rect x="795.80" y="150.85" width="19.50" height="3.00" fill="#f3eeee" stroke="#b58a96" stroke-width="0.4"/>
<rect x="795.80" y="156.40" width="19.50" height="3.00" fill="#f3eeee" stroke="#b58a96" stroke-width="0.4"/>
<circle cx="750.40" cy="84.40" r="24.40" fill="#a9a6a7" stroke="none" stroke-width="0"/>
<circle cx="751.90" cy="86.20" r="23.00" fill="#cb6b86" stroke="#b95a76" stroke-width="0.6"/>
<circle cx="858.90" cy="84.40" r="24.40" fill="#a9a6a7" stroke="none" stroke-width="0"/>
<circle cx="860.40" cy="86.20" r="23.00" fill="#cb6b86" stroke="#b95a76" stroke-width="0.6"/>
<circle cx="750.40" cy="186.90" r="24.40" fill="#a9a6a7" stroke="none" stroke-width="0"/>
<circle cx="751.90" cy="188.70" r="23.00" fill="#cb6b86" stroke="#b95a76" stroke-width="0.6"/>
<circle cx="858.90" cy="186.90" r="24.40" fill="#a9a6a7" stroke="none" stroke-width="0"/>
<circle cx="860.40" cy="188.70" r="23.00" fill="#cb6b86" stroke="#b95a76" stroke-width="0.6"/>
<circle cx="791.50" cy="123.50" r="1.80" fill="#777" stroke="none" stroke-width="0"/>
<path d="M791.5 123.5 H826 q4 0 6 -4 M826 123.5 q4 1 6 4" fill="none" stroke="#8a8a8a" stroke-width="0.7"/>
<path d="M791.5 123.5 l-6 -5 M791.5 123.5 l-7 1 M791.5 123.5 l-5 6 M791.5 123.5 l1 -7" fill="none" stroke="#8a8a8a" stroke-width="0.6"/>
<circle cx="789.50" cy="134.00" r="1.80" fill="#777" stroke="none" stroke-width="0"/>
<path d="M789.5 134 H826 q4 0 6 -4 M826 134 q4 1 6 4" fill="none" stroke="#8a8a8a" stroke-width="0.7"/>
<path d="M789.5 134 l-6 -5 M789.5 134 l-7 1 M789.5 134 l-5 6 M789.5 134 l1 -7" fill="none" stroke="#8a8a8a" stroke-width="0.6"/>
<circle cx="789.50" cy="139.00" r="1.80" fill="#777" stroke="none" stroke-width="0"/>
<path d="M789.5 139 H826 q4 0 6 -4 M826 139 q4 1 6 4" fill="none" stroke="#8a8a8a" stroke-width="0.7"/>
<path d="M789.5 139 l-6 -5 M789.5 139 l-7 1 M789.5 139 l-5 6 M789.5 139 l1 -7" fill="none" stroke="#8a8a8a" stroke-width="0.6"/>
<circle cx="789.50" cy="150.00" r="1.80" fill="#777" stroke="none" stroke-width="0"/>
<path d="M789.5 150 H826 q4 0 6 -4 M826 150 q4 1 6 4" fill="none" stroke="#8a8a8a" stroke-width="0.7"/>
<path d="M789.5 150 l-6 -5 M789.5 150 l-7 1 M789.5 150 l-5 6 M789.5 150 l1 -7" fill="none" stroke="#8a8a8a" stroke-width="0.6"/>
<circle cx="789.50" cy="160.00" r="1.80" fill="#777" stroke="none" stroke-width="0"/>
<path d="M789.5 160 H826 q4 0 6 -4 M826 160 q4 1 6 4" fill="none" stroke="#8a8a8a" stroke-width="0.7"/>
<path d="M789.5 160 l-6 -5 M789.5 160 l-7 1 M789.5 160 l-5 6 M789.5 160 l1 -7" fill="none" stroke="#8a8a8a" stroke-width="0.6"/>
<rect x="767.6" y="125.4" width="75.4" height="21.6" fill="none" stroke="#3c3c3c" stroke-width="1.5" stroke-dasharray="7 4.6"/>
<g clip-path="url(#cpb2)">
<rect x="645.10" y="242.70" width="322.90" height="100.80" fill="#e5e1e0" stroke="none" stroke-width="0"/>
<rect x="660.30" y="242.70" width="293.00" height="100.80" fill="#e7a9ba" stroke="none" stroke-width="0"/>
<rect x="660.30" y="242.70" width="9.60" height="100.80" fill="#dc7c98" stroke="none" stroke-width="0"/>
<rect x="660.00" y="242.70" width="1.60" height="100.80" fill="#6e6668" stroke="none" stroke-width="0"/>
<rect x="943.00" y="242.70" width="9.60" height="100.80" fill="#dc7c98" stroke="none" stroke-width="0"/>
<rect x="952.00" y="242.70" width="1.60" height="100.80" fill="#6e6668" stroke="none" stroke-width="0"/>
<rect x="757.8" y="236" width="97.7" height="14.6" rx="1.5" fill="#e5e1e0" stroke="#7b7677" stroke-width="1.5"/>
<rect x="757.8" y="260.8" width="97.7" height="14.8" rx="1.5" fill="#e5e1e0" stroke="#7b7677" stroke-width="1.5"/>
<rect x="757.8" y="285.9" width="97.7" height="15.0" rx="1.5" fill="#e5e1e0" stroke="#7b7677" stroke-width="1.5"/>
<rect x="757.8" y="311.2" width="97.7" height="15.0" rx="1.5" fill="#e5e1e0" stroke="#7b7677" stroke-width="1.5"/>
<rect x="757.8" y="336.5" width="97.7" height="15.5" rx="1.5" fill="#e5e1e0" stroke="#7b7677" stroke-width="1.5"/>
<path d="M731 282 C745 279 752 280.5 760 280.5 L850 281 C870 282 880 283 890 286 C900 289 905 292 912 296" fill="none" stroke="#7c7a7a" stroke-width="3.6" stroke-linecap="round" stroke-linejoin="round"/>
<path d="M716 304 C735 307 750 307 760 306.5 L850 306.5 C870 306 885 303 895 298 C903 294 908 292 914 290" fill="none" stroke="#7c7a7a" stroke-width="3.6" stroke-linecap="round" stroke-linejoin="round"/>
<path d="M890 286 C900 282 908 274 914 266 L920 255" fill="none" stroke="#7c7a7a" stroke-width="2.8" stroke-linecap="round" stroke-linejoin="round"/>
<path d="M900 280 C905 272 906 262 905 255" fill="none" stroke="#7c7a7a" stroke-width="2.3" stroke-linecap="round" stroke-linejoin="round"/>
<path d="M914 266 C920 262 926 262 931 263" fill="none" stroke="#7c7a7a" stroke-width="2.2" stroke-linecap="round" stroke-linejoin="round"/>
<path d="M912 296 C918 300 926 300 932 296" fill="none" stroke="#7c7a7a" stroke-width="2.4" stroke-linecap="round" stroke-linejoin="round"/>
<path d="M914 290 C920 286 928 282 936 280" fill="none" stroke="#7c7a7a" stroke-width="2.4" stroke-linecap="round" stroke-linejoin="round"/>
<path d="M920 292 C926 292 930 296 934 300" fill="none" stroke="#7c7a7a" stroke-width="2.2" stroke-linecap="round" stroke-linejoin="round"/>
<path d="M895 298 C904 304 912 312 918 322 L922 332" fill="none" stroke="#7c7a7a" stroke-width="2.8" stroke-linecap="round" stroke-linejoin="round"/>
<path d="M905 306 C906 316 905 324 904 330" fill="none" stroke="#7c7a7a" stroke-width="2.3" stroke-linecap="round" stroke-linejoin="round"/>
<path d="M918 322 C924 318 930 314 934 309" fill="none" stroke="#7c7a7a" stroke-width="2.2" stroke-linecap="round" stroke-linejoin="round"/>
<path d="M731 282 C726 270 722 258 722 246" fill="none" stroke="#7c7a7a" stroke-width="3.0" stroke-linecap="round" stroke-linejoin="round"/>
<path d="M731 282 C738 272 742 262 748 254" fill="none" stroke="#7c7a7a" stroke-width="2.8" stroke-linecap="round" stroke-linejoin="round"/>
<path d="M727 268 C720 262 712 258 704 256" fill="none" stroke="#7c7a7a" stroke-width="2.4" stroke-linecap="round" stroke-linejoin="round"/>
<path d="M731 282 C722 280 712 276 704 268" fill="none" stroke="#7c7a7a" stroke-width="2.6" stroke-linecap="round" stroke-linejoin="round"/>
<path d="M748 254 C752 250 758 248 762 246" fill="none" stroke="#7c7a7a" stroke-width="2.2" stroke-linecap="round" stroke-linejoin="round"/>
<path d="M722 258 C716 252 714 248 714 244" fill="none" stroke="#7c7a7a" stroke-width="2.2" stroke-linecap="round" stroke-linejoin="round"/>
<path d="M716 304 C706 296 700 288 694 282 C688 278 684 278 680 280" fill="none" stroke="#7c7a7a" stroke-width="3.0" stroke-linecap="round" stroke-linejoin="round"/>
<path d="M716 304 C704 306 692 304 682 300 C676 298 672 300 668 304" fill="none" stroke="#7c7a7a" stroke-width="2.8" stroke-linecap="round" stroke-linejoin="round"/>
<path d="M716 304 C706 312 698 318 690 322 C684 326 680 330 678 336" fill="none" stroke="#7c7a7a" stroke-width="2.8" stroke-linecap="round" stroke-linejoin="round"/>
<path d="M716 304 C712 318 710 328 706 340" fill="none" stroke="#7c7a7a" stroke-width="3.0" stroke-linecap="round" stroke-linejoin="round"/>
<path d="M716 304 C722 318 728 328 736 338" fill="none" stroke="#7c7a7a" stroke-width="2.8" stroke-linecap="round" stroke-linejoin="round"/>
<path d="M716 304 C726 310 734 314 742 316" fill="none" stroke="#7c7a7a" stroke-width="2.5" stroke-linecap="round" stroke-linejoin="round"/>
<path d="M694 282 C692 274 694 268 698 262" fill="none" stroke="#7c7a7a" stroke-width="2.3" stroke-linecap="round" stroke-linejoin="round"/>
<path d="M700 288 C694 290 688 294 684 296" fill="none" stroke="#7c7a7a" stroke-width="2.2" stroke-linecap="round" stroke-linejoin="round"/>
<path d="M690 322 C684 320 678 320 672 322" fill="none" stroke="#7c7a7a" stroke-width="2.2" stroke-linecap="round" stroke-linejoin="round"/>
<path d="M710 328 C704 332 700 338 698 344" fill="none" stroke="#7c7a7a" stroke-width="2.2" stroke-linecap="round" stroke-linejoin="round"/>
<path d="M722 318 C726 322 732 322 738 320" fill="none" stroke="#7c7a7a" stroke-width="2.2" stroke-linecap="round" stroke-linejoin="round"/>
<path d="M706 296 C704 290 706 284 710 280" fill="none" stroke="#7c7a7a" stroke-width="2.2" stroke-linecap="round" stroke-linejoin="round"/>
<circle cx="716.50" cy="304.00" r="9.50" fill="#9b9999" stroke="#7c7a7a" stroke-width="1"/>
<circle cx="731.00" cy="282.00" r="8.00" fill="#9b9999" stroke="#7c7a7a" stroke-width="1"/>
<path d="M731 282 C745 279 752 280.5 760 280.5 L850 281 C870 282 880 283 890 286 C900 289 905 292 912 296" fill="none" stroke="#9b9999" stroke-width="2.6" stroke-linecap="round" stroke-linejoin="round"/>
<path d="M716 304 C735 307 750 307 760 306.5 L850 306.5 C870 306 885 303 895 298 C903 294 908 292 914 290" fill="none" stroke="#9b9999" stroke-width="2.6" stroke-linecap="round" stroke-linejoin="round"/>
<path d="M890 286 C900 282 908 274 914 266 L920 255" fill="none" stroke="#9b9999" stroke-width="1.8" stroke-linecap="round" stroke-linejoin="round"/>
<path d="M900 280 C905 272 906 262 905 255" fill="none" stroke="#9b9999" stroke-width="1.3" stroke-linecap="round" stroke-linejoin="round"/>
<path d="M914 266 C920 262 926 262 931 263" fill="none" stroke="#9b9999" stroke-width="1.2" stroke-linecap="round" stroke-linejoin="round"/>
<path d="M912 296 C918 300 926 300 932 296" fill="none" stroke="#9b9999" stroke-width="1.4" stroke-linecap="round" stroke-linejoin="round"/>
<path d="M914 290 C920 286 928 282 936 280" fill="none" stroke="#9b9999" stroke-width="1.4" stroke-linecap="round" stroke-linejoin="round"/>
<path d="M920 292 C926 292 930 296 934 300" fill="none" stroke="#9b9999" stroke-width="1.2" stroke-linecap="round" stroke-linejoin="round"/>
<path d="M895 298 C904 304 912 312 918 322 L922 332" fill="none" stroke="#9b9999" stroke-width="1.8" stroke-linecap="round" stroke-linejoin="round"/>
<path d="M905 306 C906 316 905 324 904 330" fill="none" stroke="#9b9999" stroke-width="1.3" stroke-linecap="round" stroke-linejoin="round"/>
<path d="M918 322 C924 318 930 314 934 309" fill="none" stroke="#9b9999" stroke-width="1.2" stroke-linecap="round" stroke-linejoin="round"/>
<path d="M731 282 C726 270 722 258 722 246" fill="none" stroke="#9b9999" stroke-width="2.0" stroke-linecap="round" stroke-linejoin="round"/>
<path d="M731 282 C738 272 742 262 748 254" fill="none" stroke="#9b9999" stroke-width="1.8" stroke-linecap="round" stroke-linejoin="round"/>
<path d="M727 268 C720 262 712 258 704 256" fill="none" stroke="#9b9999" stroke-width="1.4" stroke-linecap="round" stroke-linejoin="round"/>
<path d="M731 282 C722 280 712 276 704 268" fill="none" stroke="#9b9999" stroke-width="1.6" stroke-linecap="round" stroke-linejoin="round"/>
<path d="M748 254 C752 250 758 248 762 246" fill="none" stroke="#9b9999" stroke-width="1.2" stroke-linecap="round" stroke-linejoin="round"/>
<path d="M722 258 C716 252 714 248 714 244" fill="none" stroke="#9b9999" stroke-width="1.2" stroke-linecap="round" stroke-linejoin="round"/>
<path d="M716 304 C706 296 700 288 694 282 C688 278 684 278 680 280" fill="none" stroke="#9b9999" stroke-width="2.0" stroke-linecap="round" stroke-linejoin="round"/>
<path d="M716 304 C704 306 692 304 682 300 C676 298 672 300 668 304" fill="none" stroke="#9b9999" stroke-width="1.8" stroke-linecap="round" stroke-linejoin="round"/>
<path d="M716 304 C706 312 698 318 690 322 C684 326 680 330 678 336" fill="none" stroke="#9b9999" stroke-width="1.8" stroke-linecap="round" stroke-linejoin="round"/>
<path d="M716 304 C712 318 710 328 706 340" fill="none" stroke="#9b9999" stroke-width="2.0" stroke-linecap="round" stroke-linejoin="round"/>
<path d="M716 304 C722 318 728 328 736 338" fill="none" stroke="#9b9999" stroke-width="1.8" stroke-linecap="round" stroke-linejoin="round"/>
<path d="M716 304 C726 310 734 314 742 316" fill="none" stroke="#9b9999" stroke-width="1.5" stroke-linecap="round" stroke-linejoin="round"/>
<path d="M694 282 C692 274 694 268 698 262" fill="none" stroke="#9b9999" stroke-width="1.3" stroke-linecap="round" stroke-linejoin="round"/>
<path d="M700 288 C694 290 688 294 684 296" fill="none" stroke="#9b9999" stroke-width="1.2" stroke-linecap="round" stroke-linejoin="round"/>
<path d="M690 322 C684 320 678 320 672 322" fill="none" stroke="#9b9999" stroke-width="1.2" stroke-linecap="round" stroke-linejoin="round"/>
<path d="M710 328 C704 332 700 338 698 344" fill="none" stroke="#9b9999" stroke-width="1.2" stroke-linecap="round" stroke-linejoin="round"/>
<path d="M722 318 C726 322 732 322 738 320" fill="none" stroke="#9b9999" stroke-width="1.2" stroke-linecap="round" stroke-linejoin="round"/>
<path d="M706 296 C704 290 706 284 710 280" fill="none" stroke="#9b9999" stroke-width="1.2" stroke-linecap="round" stroke-linejoin="round"/>
<circle cx="716.50" cy="304.00" r="9.00" fill="#9b9999" stroke="none" stroke-width="0"/>
<circle cx="731.00" cy="282.00" r="7.50" fill="#9b9999" stroke="none" stroke-width="0"/>
<circle cx="716.80" cy="304.20" r="4.30" fill="#6e6c6c" stroke="none" stroke-width="0"/>
<circle cx="717.00" cy="304.40" r="1.50" fill="#222" stroke="none" stroke-width="0"/>
<circle cx="731.00" cy="282.20" r="3.60" fill="#6e6c6c" stroke="none" stroke-width="0"/>
<circle cx="731.20" cy="282.40" r="1.30" fill="#333" stroke="none" stroke-width="0"/>
<circle cx="920.00" cy="255.00" r="1.70" fill="#9b9999" stroke="#7c7a7a" stroke-width="0.6"/>
<circle cx="931.00" cy="263.00" r="1.70" fill="#9b9999" stroke="#7c7a7a" stroke-width="0.6"/>
<circle cx="905.00" cy="255.00" r="1.70" fill="#9b9999" stroke="#7c7a7a" stroke-width="0.6"/>
<circle cx="936.00" cy="280.00" r="1.70" fill="#9b9999" stroke="#7c7a7a" stroke-width="0.6"/>
<circle cx="932.00" cy="296.00" r="1.70" fill="#9b9999" stroke="#7c7a7a" stroke-width="0.6"/>
<circle cx="934.00" cy="300.00" r="1.70" fill="#9b9999" stroke="#7c7a7a" stroke-width="0.6"/>
<circle cx="922.00" cy="332.00" r="1.70" fill="#9b9999" stroke="#7c7a7a" stroke-width="0.6"/>
<circle cx="904.00" cy="330.00" r="1.70" fill="#9b9999" stroke="#7c7a7a" stroke-width="0.6"/>
<circle cx="934.00" cy="309.00" r="1.70" fill="#9b9999" stroke="#7c7a7a" stroke-width="0.6"/>
</g>
<rect x="645.1" y="242.7" width="322.9" height="100.80000000000001" fill="none" stroke="#bdbaba" stroke-width="0.8"/>
<path d="M769.3 306 V294.4 H845.6 V318.8 H769.3 V313" fill="none" stroke="#3c3c3c" stroke-width="1.5" stroke-dasharray="7 5.4"/>
<g clip-path="url(#cpb3)">
<rect x="644.70" y="357.50" width="323.80" height="77.10" fill="#e5e1e0" stroke="none" stroke-width="0"/>
<rect x="644.70" y="369.40" width="323.80" height="53.30" fill="#666565" stroke="none" stroke-width="0"/>
<rect x="644.70" y="376.60" width="323.80" height="37.00" fill="#e7a9ba" stroke="none" stroke-width="0"/>
<path d="M640.00 396.20 C646.67 395.97 666.67 394.90 680.00 394.80 C693.33 394.70 706.67 395.13 720.00 395.60 C733.33 396.07 745.83 396.83 760.00 397.60 C774.17 398.37 791.67 399.37 805.00 400.20 C818.33 401.03 827.50 402.03 840.00 402.60 C852.50 403.17 866.67 403.63 880.00 403.60 C893.33 403.57 908.33 402.90 920.00 402.40 C931.67 401.90 941.33 401.17 950.00 400.60 C958.67 400.03 968.33 399.27 972.00 399.00" fill="none" stroke="#4b4a4a" stroke-width="15.2"/>
<path d="M640.00 396.20 C646.67 395.97 666.67 394.90 680.00 394.80 C693.33 394.70 706.67 395.13 720.00 395.60 C733.33 396.07 745.83 396.83 760.00 397.60 C774.17 398.37 791.67 399.37 805.00 400.20 C818.33 401.03 827.50 402.03 840.00 402.60 C852.50 403.17 866.67 403.63 880.00 403.60 C893.33 403.57 908.33 402.90 920.00 402.40 C931.67 401.90 941.33 401.17 950.00 400.60 C958.67 400.03 968.33 399.27 972.00 399.00" fill="none" stroke="#979696" stroke-width="13.0"/>
<circle cx="659.00" cy="395.50" r="5.40" fill="#8ec87a" stroke="#4f8f3f" stroke-width="1.0"/>
<circle cx="681.70" cy="394.20" r="5.40" fill="#8ec87a" stroke="#4f8f3f" stroke-width="1.0"/>
<circle cx="704.50" cy="395.50" r="5.40" fill="#8ec87a" stroke="#4f8f3f" stroke-width="1.0"/>
<circle cx="805.20" cy="399.90" r="5.40" fill="#8ec87a" stroke="#4f8f3f" stroke-width="1.0"/>
<circle cx="875.00" cy="402.80" r="5.40" fill="#8ec87a" stroke="#4f8f3f" stroke-width="1.0"/>
<circle cx="905.80" cy="402.80" r="5.40" fill="#8ec87a" stroke="#4f8f3f" stroke-width="1.0"/>
<circle cx="944.60" cy="401.60" r="5.40" fill="#8ec87a" stroke="#4f8f3f" stroke-width="1.0"/>
</g>
<rect x="644.7" y="357.5" width="323.79999999999995" height="77.10000000000002" fill="none" stroke="#c4c1c1" stroke-width="0.8"/>
<rect x="653.20" y="473.90" width="296.20" height="2.4" fill="url(#gar1)"/>
<polygon points="948.40,467.30 961.00,475.10 948.40,482.90" fill="#4a4a4a" stroke="none" stroke-width="0"/>
<rect x="664.80" y="491.60" width="296.20" height="2.4" fill="url(#gar2)"/>
<polygon points="665.80,485.00 653.20,492.80 665.80,500.60" fill="#4a4a4a" stroke="none" stroke-width="0"/>
<text text-anchor="middle" fill="#000" stroke="#000" stroke-width="0.4" style="font-size:22.0px;letter-spacing:0.3px;" transform="translate(805.20 468.40)">Anterograde</text>
<text text-anchor="middle" fill="#000" stroke="#000" stroke-width="0.4" style="font-size:22.0px;letter-spacing:0.3px;" transform="translate(805.20 515.80)">Retrograde</text>
<rect x="948.30" y="861.60" width="315.50" height="20.00" fill="#e4e7f0" stroke="#a3b1c6" stroke-width="1.0"/>
<rect x="948.80" y="931.00" width="313.70" height="9.20" fill="#e4e7ee" stroke="#a9b5c6" stroke-width="1.0"/>
<rect x="977.7" y="883.1" width="256.1" height="46.6" rx="58" ry="23.3" fill="#e9f1fb" stroke="#9cb3cc" stroke-width="1"/>
<path d="M990 912 C988 902 994 893 1004 890 C998 896 994 904 996 914 Z" fill="#fff" stroke="none" stroke-width="1"/>
<path d="M1009.00 905.00 C1009.50 903.33 1010.50 897.33 1012.00 895.00 C1013.50 892.67 1017.33 892.33 1018.00 891.00 C1018.67 889.67 1015.00 887.17 1016.00 887.00 C1017.00 886.83 1020.67 889.83 1024.00 890.00 C1027.33 890.17 1031.33 888.58 1036.00 888.00 C1040.67 887.42 1046.00 886.92 1052.00 886.50 C1058.00 886.08 1064.83 885.75 1072.00 885.50 C1079.17 885.25 1087.00 885.17 1095.00 885.00 C1103.00 884.83 1111.67 884.67 1120.00 884.50 C1128.33 884.33 1137.50 883.92 1145.00 884.00 C1152.50 884.08 1158.33 884.50 1165.00 885.00 C1171.67 885.50 1179.17 886.00 1185.00 887.00 C1190.83 888.00 1195.83 889.33 1200.00 891.00 C1204.17 892.67 1207.83 894.83 1210.00 897.00 C1212.17 899.17 1213.00 901.50 1213.00 904.00 C1213.00 906.50 1212.17 909.50 1210.00 912.00 C1207.83 914.50 1204.17 917.00 1200.00 919.00 C1195.83 921.00 1190.83 922.58 1185.00 924.00 C1179.17 925.42 1172.50 926.58 1165.00 927.50 C1157.50 928.42 1148.33 929.08 1140.00 929.50 C1131.67 929.92 1122.50 930.08 1115.00 930.00 C1107.50 929.92 1101.67 929.50 1095.00 929.00 C1088.33 928.50 1081.67 927.83 1075.00 927.00 C1068.33 926.17 1061.67 925.17 1055.00 924.00 C1048.33 922.83 1040.83 921.50 1035.00 920.00 C1029.17 918.50 1023.83 916.67 1020.00 915.00 C1016.17 913.33 1013.83 911.67 1012.00 910.00 C1010.17 908.33 1009.50 905.83 1009.00 905.00 Z" fill="#ddd4cd" stroke="#cbbfb5" stroke-width="0.8"/>
<path d="M1014 897 C1060 886 1150 886 1208 900" fill="none" stroke="#ecdfc4" stroke-width="1.2"/>
<path d="M1045 888.0 C1042 900 1042 915 1045 925.8" fill="none" stroke="#d0c5bc" stroke-width="0.7"/>
<path d="M1068 887.5 C1065 900 1065 915 1068 926.4" fill="none" stroke="#d0c5bc" stroke-width="0.7"/>
<path d="M1092 887.1 C1089 900 1089 915 1092 927.2" fill="none" stroke="#d0c5bc" stroke-width="0.7"/>
<path d="M1116 886.6 C1113 900 1113 915 1116 927.9" fill="none" stroke="#d0c5bc" stroke-width="0.7"/>
<path d="M1140 886.9 C1137 900 1137 915 1140 927.4" fill="none" stroke="#d0c5bc" stroke-width="0.7"/>
<path d="M1162 887.3 C1159 900 1159 915 1162 926.7" fill="none" stroke="#d0c5bc" stroke-width="0.7"/>
<path d="M1182 887.7 C1179 900 1179 915 1182 926.1" fill="none" stroke="#d0c5bc" stroke-width="0.7"/>
<path d="M1198 888.1 C1195 900 1195 915 1198 925.7" fill="none" stroke="#d0c5bc" stroke-width="0.7"/>
<path d="M1062 913.5 Q1078 905 1081 889" fill="none" stroke="#4dbf33" stroke-width="0.8"/>
<path d="M1062 913.5 Q1092 906 1098 888" fill="none" stroke="#4dbf33" stroke-width="0.8"/>
<path d="M1062 913.5 Q1106 908 1116 888" fill="none" stroke="#4dbf33" stroke-width="0.8"/>
<path d="M1062 913.5 Q1120 910 1134 889" fill="none" stroke="#4dbf33" stroke-width="0.8"/>
<path d="M1062 913.5 Q1134 911 1151 889" fill="none" stroke="#4dbf33" stroke-width="0.8"/>
<path d="M1062 913.5 Q1150 912 1172 890" fill="none" stroke="#4dbf33" stroke-width="0.8"/>
<path d="M1062 913.5 Q1166 914 1192 893" fill="none" stroke="#4dbf33" stroke-width="0.8"/>
<path d="M1062 913.5 Q1074 918 1080 925" fill="none" stroke="#4dbf33" stroke-width="0.8"/>
<path d="M1062 913.5 Q1086 918 1098 926" fill="none" stroke="#4dbf33" stroke-width="0.8"/>
<path d="M1062 913.5 Q1100 917 1116 925" fill="none" stroke="#4dbf33" stroke-width="0.8"/>
<path d="M1062 913.5 Q1114 917 1135 924" fill="none" stroke="#4dbf33" stroke-width="0.8"/>
<path d="M1062 913.5 Q1130 916 1153 922" fill="none" stroke="#4dbf33" stroke-width="0.8"/>
<path d="M1062 913.5 Q1146 915 1171 919" fill="none" stroke="#4dbf33" stroke-width="0.8"/>
<path d="M1062 913.5 Q1160 914 1189 915" fill="none" stroke="#4dbf33" stroke-width="0.8"/>
<path d="M1046 911 L1062 913.5 L1100 913.5 L1140 915 L1100 916 L1062 916 Z" fill="#4dbf33" stroke="none" stroke-width="1"/>
<path d="M1043 911 Q1028 903 1014 900" fill="none" stroke="#4dbf33" stroke-width="0.8"/>
<path d="M1043 911 Q1028 911 1013 908" fill="none" stroke="#4dbf33" stroke-width="0.8"/>
<path d="M1043 911 Q1028 919 1016 916" fill="none" stroke="#4dbf33" stroke-width="0.8"/>
<path d="M1043 911 Q1028 899 1018 896" fill="none" stroke="#4dbf33" stroke-width="0.8"/>
<circle cx="1044.00" cy="909.80" r="4.20" fill="#4dbf33" stroke="none" stroke-width="0"/>
<circle cx="1043.20" cy="915.20" r="3.60" fill="#4dbf33" stroke="none" stroke-width="0"/>
<rect x="1062.00" y="910.70" width="6.00" height="58.50" fill="url(#gbeam)" stroke="none" stroke-width="0"/>
<path d="M1006.2 1125 H1118.1 V1143 Q1062 1147.5 1006.2 1143 Z" fill="url(#gobj)" stroke="#565b5f" stroke-width="1.1"/>
<path d="M1007 1134 Q1062 1137 1117.4 1134 V1137 Q1062 1140 1007 1137 Z" fill="#c9a02c" stroke="none" stroke-width="1"/>
<path d="M998.9 1106 H1126.2 V1124.5 Q1062 1128.5 998.9 1124.5 Z" fill="url(#gobj)" stroke="#565b5f" stroke-width="1.1"/>
<path d="M994.6 1049 H1130.4 V1097.5 L1126.2 1106.5 Q1062 1111 998.9 1106.5 L994.6 1097.5 Z" fill="url(#gobj)" stroke="#565b5f" stroke-width="1.1"/>
<path d="M995.2 1097.5 Q1062 1101 1129.8 1097.5 L1126.2 1106.5 Q1062 1110.5 998.9 1106.5 Z" fill="url(#gobj2)" stroke="#565b5f" stroke-width="0.8"/>
<path d="M996 1053.6 Q1062 1055.4 1129 1053.6 V1056.6 Q1062 1058.4 996 1056.6 Z" fill="#1a9cb0" stroke="none" stroke-width="1"/>
<path d="M1021.9 969.2 Q1062 967 1102.8 969.2 L1130.4 989 V1020 H994.6 V989 Z" fill="url(#gobj)" stroke="#565b5f" stroke-width="1.1"/>
<path d="M995 989.4 Q1062 985.6 1130 989.4" fill="none" stroke="#565b5f" stroke-width="1.0"/>
<path d="M1000 986 Q1062 981.6 1124 986" fill="none" stroke="#e4e5e7" stroke-width="1.0"/>
<rect x="992.4" y="1020.2" width="140.2" height="28.5" rx="2" fill="url(#gobj2)" stroke="#565b5f" stroke-width="1.1"/>
<line x1="995.50" y1="1023.20" x2="995.50" y2="1046.20" stroke="#a3a6aa" stroke-width="1.0" stroke-linecap="butt"/>
<line x1="998.95" y1="1023.20" x2="998.95" y2="1046.20" stroke="#a3a6aa" stroke-width="1.0" stroke-linecap="butt"/>
<line x1="1002.40" y1="1023.20" x2="1002.40" y2="1046.20" stroke="#a3a6aa" stroke-width="1.0" stroke-linecap="butt"/>
<line x1="1005.85" y1="1023.20" x2="1005.85" y2="1046.20" stroke="#a3a6aa" stroke-width="1.0" stroke-linecap="butt"/>
<line x1="1009.30" y1="1023.20" x2="1009.30" y2="1046.20" stroke="#a3a6aa" stroke-width="1.0" stroke-linecap="butt"/>
<line x1="1012.75" y1="1023.20" x2="1012.75" y2="1046.20" stroke="#a3a6aa" stroke-width="1.0" stroke-linecap="butt"/>
<line x1="1016.20" y1="1023.20" x2="1016.20" y2="1046.20" stroke="#a3a6aa" stroke-width="1.0" stroke-linecap="butt"/>
<line x1="1019.65" y1="1023.20" x2="1019.65" y2="1046.20" stroke="#a3a6aa" stroke-width="1.0" stroke-linecap="butt"/>
<line x1="1023.10" y1="1023.20" x2="1023.10" y2="1046.20" stroke="#a3a6aa" stroke-width="1.0" stroke-linecap="butt"/>
<line x1="1026.55" y1="1023.20" x2="1026.55" y2="1046.20" stroke="#a3a6aa" stroke-width="1.0" stroke-linecap="butt"/>
<line x1="1030.00" y1="1023.20" x2="1030.00" y2="1046.20" stroke="#a3a6aa" stroke-width="1.0" stroke-linecap="butt"/>
<line x1="1033.45" y1="1023.20" x2="1033.45" y2="1046.20" stroke="#a3a6aa" stroke-width="1.0" stroke-linecap="butt"/>
<line x1="1036.90" y1="1023.20" x2="1036.90" y2="1046.20" stroke="#a3a6aa" stroke-width="1.0" stroke-linecap="butt"/>
<line x1="1040.35" y1="1023.20" x2="1040.35" y2="1046.20" stroke="#a3a6aa" stroke-width="1.0" stroke-linecap="butt"/>
<line x1="1043.80" y1="1023.20" x2="1043.80" y2="1046.20" stroke="#a3a6aa" stroke-width="1.0" stroke-linecap="butt"/>
<line x1="1047.25" y1="1023.20" x2="1047.25" y2="1046.20" stroke="#a3a6aa" stroke-width="1.0" stroke-linecap="butt"/>
<line x1="1050.70" y1="1023.20" x2="1050.70" y2="1046.20" stroke="#a3a6aa" stroke-width="1.0" stroke-linecap="butt"/>
<line x1="1054.15" y1="1023.20" x2="1054.15" y2="1046.20" stroke="#a3a6aa" stroke-width="1.0" stroke-linecap="butt"/>
<line x1="1057.60" y1="1023.20" x2="1057.60" y2="1046.20" stroke="#a3a6aa" stroke-width="1.0" stroke-linecap="butt"/>
<line x1="1061.05" y1="1023.20" x2="1061.05" y2="1046.20" stroke="#a3a6aa" stroke-width="1.0" stroke-linecap="butt"/>
<line x1="1064.50" y1="1023.20" x2="1064.50" y2="1046.20" stroke="#a3a6aa" stroke-width="1.0" stroke-linecap="butt"/>
<line x1="1067.95" y1="1023.20" x2="1067.95" y2="1046.20" stroke="#a3a6aa" stroke-width="1.0" stroke-linecap="butt"/>
<line x1="1071.40" y1="1023.20" x2="1071.40" y2="1046.20" stroke="#a3a6aa" stroke-width="1.0" stroke-linecap="butt"/>
<line x1="1074.85" y1="1023.20" x2="1074.85" y2="1046.20" stroke="#a3a6aa" stroke-width="1.0" stroke-linecap="butt"/>
<line x1="1078.30" y1="1023.20" x2="1078.30" y2="1046.20" stroke="#a3a6aa" stroke-width="1.0" stroke-linecap="butt"/>
<line x1="1081.75" y1="1023.20" x2="1081.75" y2="1046.20" stroke="#a3a6aa" stroke-width="1.0" stroke-linecap="butt"/>
<line x1="1085.20" y1="1023.20" x2="1085.20" y2="1046.20" stroke="#a3a6aa" stroke-width="1.0" stroke-linecap="butt"/>
<line x1="1088.65" y1="1023.20" x2="1088.65" y2="1046.20" stroke="#a3a6aa" stroke-width="1.0" stroke-linecap="butt"/>
<line x1="1092.10" y1="1023.20" x2="1092.10" y2="1046.20" stroke="#a3a6aa" stroke-width="1.0" stroke-linecap="butt"/>
<line x1="1095.55" y1="1023.20" x2="1095.55" y2="1046.20" stroke="#a3a6aa" stroke-width="1.0" stroke-linecap="butt"/>
<line x1="1099.00" y1="1023.20" x2="1099.00" y2="1046.20" stroke="#a3a6aa" stroke-width="1.0" stroke-linecap="butt"/>
<line x1="1102.45" y1="1023.20" x2="1102.45" y2="1046.20" stroke="#a3a6aa" stroke-width="1.0" stroke-linecap="butt"/>
<line x1="1105.90" y1="1023.20" x2="1105.90" y2="1046.20" stroke="#a3a6aa" stroke-width="1.0" stroke-linecap="butt"/>
<line x1="1109.35" y1="1023.20" x2="1109.35" y2="1046.20" stroke="#a3a6aa" stroke-width="1.0" stroke-linecap="butt"/>
<line x1="1112.80" y1="1023.20" x2="1112.80" y2="1046.20" stroke="#a3a6aa" stroke-width="1.0" stroke-linecap="butt"/>
<line x1="1116.25" y1="1023.20" x2="1116.25" y2="1046.20" stroke="#a3a6aa" stroke-width="1.0" stroke-linecap="butt"/>
<line x1="1119.70" y1="1023.20" x2="1119.70" y2="1046.20" stroke="#a3a6aa" stroke-width="1.0" stroke-linecap="butt"/>
<line x1="1123.15" y1="1023.20" x2="1123.15" y2="1046.20" stroke="#a3a6aa" stroke-width="1.0" stroke-linecap="butt"/>
<line x1="1126.60" y1="1023.20" x2="1126.60" y2="1046.20" stroke="#a3a6aa" stroke-width="1.0" stroke-linecap="butt"/>
<line x1="1130.05" y1="1023.20" x2="1130.05" y2="1046.20" stroke="#a3a6aa" stroke-width="1.0" stroke-linecap="butt"/>
<rect x="1273.70" y="861.50" width="218.80" height="125.50" fill="#f2ede4" stroke="none" stroke-width="0"/>
<g clip-path="url(#cpg1)">
<path d="M1380 928 C1420 926 1460 905 1496 880" fill="none" stroke="#57c53f" stroke-width="3.4" stroke-linecap="round"/>
<path d="M1380 931 C1425 930 1462 915 1496 895" fill="none" stroke="#57c53f" stroke-width="3.4" stroke-linecap="round"/>
<path d="M1385 934 C1430 934 1465 925 1496 910" fill="none" stroke="#57c53f" stroke-width="3.4" stroke-linecap="round"/>
<path d="M1390 937 C1435 938 1468 934 1496 926" fill="none" stroke="#57c53f" stroke-width="3.4" stroke-linecap="round"/>
<path d="M1400 941 C1440 944 1470 950 1496 960" fill="none" stroke="#57c53f" stroke-width="3.4" stroke-linecap="round"/>
<path d="M1395 945 C1440 950 1470 962 1496 976" fill="none" stroke="#57c53f" stroke-width="3.4" stroke-linecap="round"/>
<path d="M1390 949 C1435 956 1465 968 1488 984" fill="none" stroke="#57c53f" stroke-width="3.4" stroke-linecap="round"/>
<path d="M1385 952 C1430 960 1455 970 1476 986" fill="none" stroke="#57c53f" stroke-width="3.4" stroke-linecap="round"/>
<path d="M1320 912 C1345 908 1375 912 1400 922 C1412 927 1419 930 1421 933 C1415 940 1400 948 1380 953 C1355 958 1335 957 1320 950 Z" fill="#4cc032" stroke="none" stroke-width="0" opacity="0.93"/>
<circle cx="1306.60" cy="907.90" r="30.40" fill="#4abf30" stroke="none" stroke-width="0" opacity="0.95"/>
<circle cx="1306.60" cy="947.20" r="30.40" fill="#4abf30" stroke="none" stroke-width="0" opacity="0.95"/>
</g>
<rect x="1273.70" y="861.50" width="218.80" height="125.50" fill="none" stroke="#c9957d" stroke-width="1.2"/>
<rect x="1429.7" y="882.8" width="54.9" height="51.8" fill="none" stroke="#3c3c3c" stroke-width="1.5" stroke-dasharray="7.5 5"/>
<rect x="1273.70" y="998.30" width="218.80" height="73.70" fill="#f2ede4" stroke="none" stroke-width="0"/>
<g clip-path="url(#cpg2)">
<path d="M1268 1046 C1330 1036 1400 1018 1500 982" fill="none" stroke="#c6e6ba" stroke-width="9" stroke-linecap="round"/>
<path d="M1268 1062 C1340 1054 1420 1034 1500 1006" fill="none" stroke="#c6e6ba" stroke-width="9" stroke-linecap="round"/>
<path d="M1268 1076 C1350 1066 1430 1050 1500 1030" fill="none" stroke="#c6e6ba" stroke-width="9" stroke-linecap="round"/>
<path d="M1268 1032 C1330 1022 1390 1004 1450 990" fill="none" stroke="#c6e6ba" stroke-width="8" stroke-linecap="round"/>
<path d="M1300 1078 C1370 1070 1440 1062 1500 1050" fill="none" stroke="#c6e6ba" stroke-width="8" stroke-linecap="round"/>
<path d="M1400 1012 C1440 1000 1470 996 1500 990" fill="none" stroke="#c6e6ba" stroke-width="7" stroke-linecap="round"/>
<circle cx="1285.62" cy="1039.12" r="6.40" fill="#5fbb48" stroke="#51a33c" stroke-width="0.9"/>
<circle cx="1331.76" cy="1028.76" r="6.40" fill="#5fbb48" stroke="#51a33c" stroke-width="0.9"/>
<circle cx="1354.67" cy="1022.49" r="6.40" fill="#5fbb48" stroke="#51a33c" stroke-width="0.9"/>
<circle cx="1344.94" cy="1042.26" r="6.40" fill="#5fbb48" stroke="#51a33c" stroke-width="0.9"/>
<circle cx="1327.99" cy="1061.09" r="6.40" fill="#5fbb48" stroke="#51a33c" stroke-width="0.9"/>
<circle cx="1360.01" cy="1055.44" r="6.40" fill="#5fbb48" stroke="#51a33c" stroke-width="0.9"/>
<circle cx="1408.66" cy="1007.42" r="6.40" fill="#5fbb48" stroke="#51a33c" stroke-width="0.9"/>
<circle cx="1438.47" cy="1016.21" r="6.40" fill="#5fbb48" stroke="#51a33c" stroke-width="0.9"/>
<circle cx="1429.06" cy="1035.67" r="6.40" fill="#5fbb48" stroke="#51a33c" stroke-width="0.9"/>
<circle cx="1403.95" cy="1042.26" r="6.40" fill="#5fbb48" stroke="#51a33c" stroke-width="0.9"/>
<circle cx="1403.95" cy="1060.78" r="6.40" fill="#5fbb48" stroke="#51a33c" stroke-width="0.9"/>
<circle cx="1457.31" cy="1048.22" r="6.40" fill="#5fbb48" stroke="#51a33c" stroke-width="0.9"/>
</g>
<rect x="1273.70" y="998.30" width="218.80" height="73.70" fill="none" stroke="#c9957d" stroke-width="1.2"/>
<rect x="1276.80" y="1114.05" width="202.00" height="2.3" fill="url(#gar1)"/>
<polygon points="1477.80,1107.60 1490.30,1115.20 1477.80,1122.80" fill="#4a4a4a" stroke="none" stroke-width="0"/>
<rect x="1288.30" y="1129.05" width="202.00" height="2.3" fill="url(#gar2)"/>
<polygon points="1289.30,1122.60 1276.80,1130.20 1289.30,1137.80" fill="#4a4a4a" stroke="none" stroke-width="0"/>
<text text-anchor="middle" fill="#000" stroke="#000" stroke-width="0.4" style="font-size:22.4px;letter-spacing:0.3px;" transform="translate(1387.70 1104.70)">Anterograde</text>
<text text-anchor="middle" fill="#000" stroke="#000" stroke-width="0.4" style="font-size:22.4px;letter-spacing:0.3px;" transform="translate(1387.70 1153.70)">Retrograde</text>
<rect x="112.60" y="197.85" width="28.80" height="277.15" fill="#7b9fd4" stroke="#000" stroke-width="1.7"/>
<rect x="156.10" y="330.35" width="28.55" height="144.65" fill="#c9a067" stroke="#000" stroke-width="1.7"/>
<line x1="105.75" y1="57.20" x2="105.75" y2="476.30" stroke="#111" stroke-width="2.6" stroke-linecap="butt"/>
<line x1="91.25" y1="475.00" x2="193.00" y2="475.00" stroke="#111" stroke-width="2.6" stroke-linecap="butt"/>
<line x1="91.25" y1="58.50" x2="105.75" y2="58.50" stroke="#111" stroke-width="2.6" stroke-linecap="butt"/>
<text text-anchor="end" fill="#000" stroke="#000" stroke-width="0.35" style="font-size:30.8px;letter-spacing:-0.85px;" transform="translate(88.95 70.70)">1.5</text>
<line x1="91.25" y1="197.50" x2="105.75" y2="197.50" stroke="#111" stroke-width="2.6" stroke-linecap="butt"/>
<text text-anchor="end" fill="#000" stroke="#000" stroke-width="0.35" style="font-size:30.8px;letter-spacing:-0.85px;" transform="translate(88.95 209.70)">1.0</text>
<line x1="91.25" y1="336.25" x2="105.75" y2="336.25" stroke="#111" stroke-width="2.6" stroke-linecap="butt"/>
<text text-anchor="end" fill="#000" stroke="#000" stroke-width="0.35" style="font-size:30.8px;letter-spacing:-0.85px;" transform="translate(88.95 348.45)">0.5</text>
<line x1="91.25" y1="475.00" x2="105.75" y2="475.00" stroke="#111" stroke-width="2.6" stroke-linecap="butt"/>
<text text-anchor="end" fill="#000" stroke="#000" stroke-width="0.35" style="font-size:30.8px;letter-spacing:-0.85px;" transform="translate(88.95 487.20)">0.0</text>
<line x1="126.90" y1="475.00" x2="126.90" y2="490.50" stroke="#111" stroke-width="2.6" stroke-linecap="butt"/>
<line x1="170.40" y1="475.00" x2="170.40" y2="490.50" stroke="#111" stroke-width="2.6" stroke-linecap="butt"/>
<line x1="127.00" y1="155.50" x2="127.00" y2="240.00" stroke="#000" stroke-width="2.6" stroke-linecap="butt"/>
<line x1="119.40" y1="155.50" x2="134.60" y2="155.50" stroke="#000" stroke-width="2.6" stroke-linecap="round"/>
<line x1="119.40" y1="240.00" x2="134.60" y2="240.00" stroke="#000" stroke-width="2.6" stroke-linecap="round"/>
<line x1="170.40" y1="315.00" x2="170.40" y2="345.00" stroke="#000" stroke-width="2.6" stroke-linecap="butt"/>
<line x1="162.80" y1="315.00" x2="178.00" y2="315.00" stroke="#000" stroke-width="2.6" stroke-linecap="round"/>
<line x1="162.80" y1="345.00" x2="178.00" y2="345.00" stroke="#000" stroke-width="2.6" stroke-linecap="round"/>
<text x="175.62" y="306.90" fill="#000" transform="rotate(-90 175.62 306.90)" style="font-family:'DejaVu Sans',sans-serif;font-size:17.0px;letter-spacing:0.27px">★★</text>
<text text-anchor="middle" fill="#000" stroke="#000" stroke-width="0.35" style="font-size:29.6px;letter-spacing:-0.8px;" transform="translate(32.80 272.00) rotate(-90) scale(1 1.02)">Acetylated α-Tubulin/Total Tubulin</text>
<text text-anchor="end" fill="#000" stroke="#000" stroke-width="0.35" style="font-size:29.6px;letter-spacing:-0.2px;font-kerning:none;" transform="translate(135.10 512.80) rotate(-45)">WT</text>
<text text-anchor="end" fill="#000" stroke="#000" stroke-width="0.35" style="font-size:29.6px;letter-spacing:-0.2px;font-kerning:none;" transform="translate(178.60 512.80) rotate(-45)">Elp3 cKO</text>
<rect x="1107.45" y="100.10" width="29.30" height="375.40" fill="#8eafdd" stroke="#000" stroke-width="1.7"/>
<rect x="1152.60" y="232.60" width="29.30" height="242.90" fill="#c9a067" stroke="#000" stroke-width="1.7"/>
<rect x="1197.85" y="281.35" width="29.55" height="194.15" fill="#ff86fb" stroke="#000" stroke-width="1.7"/>
<rect x="1243.35" y="288.85" width="29.55" height="186.65" fill="#e5888d" stroke="#000" stroke-width="1.7"/>
<line x1="1099.70" y1="57.70" x2="1099.70" y2="477.05" stroke="#111" stroke-width="3.1" stroke-linecap="butt"/>
<line x1="1085.20" y1="475.50" x2="1281.25" y2="475.50" stroke="#111" stroke-width="3.1" stroke-linecap="butt"/>
<line x1="1085.20" y1="59.25" x2="1099.70" y2="59.25" stroke="#111" stroke-width="3.1" stroke-linecap="butt"/>
<text text-anchor="end" fill="#000" stroke="#000" stroke-width="0.35" style="font-size:30.8px;letter-spacing:-0.85px;" transform="translate(1082.90 71.45)">0.4</text>
<line x1="1085.20" y1="163.25" x2="1099.70" y2="163.25" stroke="#111" stroke-width="3.1" stroke-linecap="butt"/>
<text text-anchor="end" fill="#000" stroke="#000" stroke-width="0.35" style="font-size:30.8px;letter-spacing:-0.85px;" transform="translate(1082.90 175.45)">0.3</text>
<line x1="1085.20" y1="267.50" x2="1099.70" y2="267.50" stroke="#111" stroke-width="3.1" stroke-linecap="butt"/>
<text text-anchor="end" fill="#000" stroke="#000" stroke-width="0.35" style="font-size:30.8px;letter-spacing:-0.85px;" transform="translate(1082.90 279.70)">0.2</text>
<line x1="1085.20" y1="371.25" x2="1099.70" y2="371.25" stroke="#111" stroke-width="3.1" stroke-linecap="butt"/>
<text text-anchor="end" fill="#000" stroke="#000" stroke-width="0.35" style="font-size:30.8px;letter-spacing:-0.85px;" transform="translate(1082.90 383.45)">0.1</text>
<line x1="1085.20" y1="475.50" x2="1099.70" y2="475.50" stroke="#111" stroke-width="3.1" stroke-linecap="butt"/>
<text text-anchor="end" fill="#000" stroke="#000" stroke-width="0.35" style="font-size:30.8px;letter-spacing:-0.85px;" transform="translate(1082.90 487.70)">0.0</text>
<line x1="1121.75" y1="475.50" x2="1121.75" y2="491.00" stroke="#111" stroke-width="3.1" stroke-linecap="butt"/>
<line x1="1167.00" y1="475.50" x2="1167.00" y2="491.00" stroke="#111" stroke-width="3.1" stroke-linecap="butt"/>
<line x1="1212.50" y1="475.50" x2="1212.50" y2="491.00" stroke="#111" stroke-width="3.1" stroke-linecap="butt"/>
<line x1="1258.00" y1="475.50" x2="1258.00" y2="491.00" stroke="#111" stroke-width="3.1" stroke-linecap="butt"/>
<line x1="1122.00" y1="79.50" x2="1122.00" y2="120.00" stroke="#000" stroke-width="3.1" stroke-linecap="butt"/>
<line x1="1114.65" y1="79.50" x2="1129.35" y2="79.50" stroke="#000" stroke-width="3.1" stroke-linecap="round"/>
<line x1="1114.65" y1="120.00" x2="1129.35" y2="120.00" stroke="#000" stroke-width="3.1" stroke-linecap="round"/>
<line x1="1167.20" y1="208.25" x2="1167.20" y2="255.00" stroke="#000" stroke-width="3.1" stroke-linecap="butt"/>
<line x1="1159.85" y1="208.25" x2="1174.55" y2="208.25" stroke="#000" stroke-width="3.1" stroke-linecap="round"/>
<line x1="1159.85" y1="255.00" x2="1174.55" y2="255.00" stroke="#000" stroke-width="3.1" stroke-linecap="round"/>
<line x1="1212.60" y1="268.75" x2="1212.60" y2="292.50" stroke="#000" stroke-width="3.1" stroke-linecap="butt"/>
<line x1="1205.25" y1="268.75" x2="1219.95" y2="268.75" stroke="#000" stroke-width="3.1" stroke-linecap="round"/>
<line x1="1205.25" y1="292.50" x2="1219.95" y2="292.50" stroke="#000" stroke-width="3.1" stroke-linecap="round"/>
<line x1="1258.10" y1="268.75" x2="1258.10" y2="308.75" stroke="#000" stroke-width="3.1" stroke-linecap="butt"/>
<line x1="1250.75" y1="268.75" x2="1265.45" y2="268.75" stroke="#000" stroke-width="3.1" stroke-linecap="round"/>
<line x1="1250.75" y1="308.75" x2="1265.45" y2="308.75" stroke="#000" stroke-width="3.1" stroke-linecap="round"/>
<text x="1172.62" y="192.05" fill="#000" transform="rotate(-90 1172.62 192.05)" style="font-family:'DejaVu Sans',sans-serif;font-size:17.0px;letter-spacing:0.42px">★★★</text>
<text x="1217.92" y="258.85" fill="#000" transform="rotate(-90 1217.92 258.85)" style="font-family:'DejaVu Sans',sans-serif;font-size:17.0px;letter-spacing:0.37px">★★★</text>
<text x="1263.92" y="258.85" fill="#000" transform="rotate(-90 1263.92 258.85)" style="font-family:'DejaVu Sans',sans-serif;font-size:17.0px;letter-spacing:0.37px">★★★</text>
<text text-anchor="middle" fill="#000" stroke="#000" stroke-width="0.35" style="font-size:29.6px;letter-spacing:-0.8px;" transform="translate(1019.60 272.00) rotate(-90) scale(1 1.02)">Av. lysosomes velocity (µm/sec)</text>
<text text-anchor="end" fill="#000" stroke="#000" stroke-width="0.35" style="font-size:29.6px;letter-spacing:-0.2px;font-kerning:none;" transform="translate(1129.95 513.30) rotate(-45)">WT+sh-Control</text>
<text text-anchor="end" fill="#000" stroke="#000" stroke-width="0.35" style="font-size:29.6px;letter-spacing:-0.2px;font-kerning:none;" transform="translate(1175.20 513.30) rotate(-45)">WT+sh-Elp3</text>
<text text-anchor="end" fill="#000" stroke="#000" stroke-width="0.35" style="font-size:29.6px;letter-spacing:-0.2px;font-kerning:none;" transform="translate(1220.70 513.30) rotate(-45)">Atat1 KO+sh-Control</text>
<text text-anchor="end" fill="#000" stroke="#000" stroke-width="0.35" style="font-size:29.6px;letter-spacing:-0.2px;font-kerning:none;" transform="translate(1266.20 513.30) rotate(-45)">Atat1 KO+sh-Elp3</text>
<rect x="1412.10" y="125.85" width="29.30" height="283.30" fill="#7b9fd4" stroke="#000" stroke-width="1.7"/>
<rect x="1457.35" y="161.60" width="29.55" height="206.30" fill="#c9a067" stroke="#000" stroke-width="1.7"/>
<rect x="1503.60" y="165.85" width="29.05" height="209.05" fill="#ff86fb" stroke="#000" stroke-width="1.7"/>
<rect x="1549.10" y="177.85" width="29.30" height="179.30" fill="#e0747c" stroke="#000" stroke-width="1.7"/>
<line x1="1404.50" y1="267.00" x2="1586.30" y2="267.00" stroke="#111" stroke-width="3.1" stroke-linecap="butt"/>
<line x1="1404.50" y1="56.70" x2="1404.50" y2="476.65" stroke="#111" stroke-width="3.1" stroke-linecap="butt"/>
<line x1="1390.00" y1="475.10" x2="1586.30" y2="475.10" stroke="#111" stroke-width="3.1" stroke-linecap="butt"/>
<line x1="1390.00" y1="58.25" x2="1404.50" y2="58.25" stroke="#111" stroke-width="3.1" stroke-linecap="butt"/>
<text text-anchor="end" fill="#000" stroke="#000" stroke-width="0.35" style="font-size:30.8px;letter-spacing:-0.85px;" transform="translate(1387.70 70.45)">0.6</text>
<line x1="1390.00" y1="128.25" x2="1404.50" y2="128.25" stroke="#111" stroke-width="3.1" stroke-linecap="butt"/>
<text text-anchor="end" fill="#000" stroke="#000" stroke-width="0.35" style="font-size:30.8px;letter-spacing:-0.85px;" transform="translate(1387.70 140.45)">0.4</text>
<line x1="1390.00" y1="197.50" x2="1404.50" y2="197.50" stroke="#111" stroke-width="3.1" stroke-linecap="butt"/>
<text text-anchor="end" fill="#000" stroke="#000" stroke-width="0.35" style="font-size:30.8px;letter-spacing:-0.85px;" transform="translate(1387.70 209.70)">0.2</text>
<line x1="1390.00" y1="267.50" x2="1404.50" y2="267.50" stroke="#111" stroke-width="3.1" stroke-linecap="butt"/>
<text text-anchor="end" fill="#000" stroke="#000" stroke-width="0.35" style="font-size:30.8px;letter-spacing:-0.85px;" transform="translate(1387.70 279.70)">0.0</text>
<line x1="1390.00" y1="336.75" x2="1404.50" y2="336.75" stroke="#111" stroke-width="3.1" stroke-linecap="butt"/>
<text text-anchor="end" fill="#000" stroke="#000" stroke-width="0.35" style="font-size:30.8px;letter-spacing:-0.85px;" transform="translate(1387.70 348.95)">-0.2</text>
<line x1="1390.00" y1="406.25" x2="1404.50" y2="406.25" stroke="#111" stroke-width="3.1" stroke-linecap="butt"/>
<text text-anchor="end" fill="#000" stroke="#000" stroke-width="0.35" style="font-size:30.8px;letter-spacing:-0.85px;" transform="translate(1387.70 418.45)">-0.4</text>
<line x1="1390.00" y1="475.10" x2="1404.50" y2="475.10" stroke="#111" stroke-width="3.1" stroke-linecap="butt"/>
<text text-anchor="end" fill="#000" stroke="#000" stroke-width="0.35" style="font-size:30.8px;letter-spacing:-0.85px;" transform="translate(1387.70 487.30)">-0.6</text>
<line x1="1426.00" y1="475.10" x2="1426.00" y2="490.60" stroke="#111" stroke-width="3.1" stroke-linecap="butt"/>
<line x1="1471.50" y1="475.10" x2="1471.50" y2="490.60" stroke="#111" stroke-width="3.1" stroke-linecap="butt"/>
<line x1="1517.25" y1="475.10" x2="1517.25" y2="490.60" stroke="#111" stroke-width="3.1" stroke-linecap="butt"/>
<line x1="1562.75" y1="475.10" x2="1562.75" y2="490.60" stroke="#111" stroke-width="3.1" stroke-linecap="butt"/>
<line x1="1426.70" y1="118.75" x2="1426.70" y2="131.25" stroke="#000" stroke-width="3.1" stroke-linecap="butt"/>
<line x1="1419.35" y1="118.75" x2="1434.05" y2="118.75" stroke="#000" stroke-width="3.1" stroke-linecap="round"/>
<line x1="1419.35" y1="131.25" x2="1434.05" y2="131.25" stroke="#000" stroke-width="3.1" stroke-linecap="round"/>
<line x1="1426.70" y1="402.00" x2="1426.70" y2="418.00" stroke="#000" stroke-width="3.1" stroke-linecap="butt"/>
<line x1="1419.35" y1="402.00" x2="1434.05" y2="402.00" stroke="#000" stroke-width="3.1" stroke-linecap="round"/>
<line x1="1419.35" y1="418.00" x2="1434.05" y2="418.00" stroke="#000" stroke-width="3.1" stroke-linecap="round"/>
<line x1="1472.00" y1="152.00" x2="1472.00" y2="170.00" stroke="#000" stroke-width="3.1" stroke-linecap="butt"/>
<line x1="1464.65" y1="152.00" x2="1479.35" y2="152.00" stroke="#000" stroke-width="3.1" stroke-linecap="round"/>
<line x1="1464.65" y1="170.00" x2="1479.35" y2="170.00" stroke="#000" stroke-width="3.1" stroke-linecap="round"/>
<line x1="1472.00" y1="359.25" x2="1472.00" y2="378.00" stroke="#000" stroke-width="3.1" stroke-linecap="butt"/>
<line x1="1464.65" y1="359.25" x2="1479.35" y2="359.25" stroke="#000" stroke-width="3.1" stroke-linecap="round"/>
<line x1="1464.65" y1="378.00" x2="1479.35" y2="378.00" stroke="#000" stroke-width="3.1" stroke-linecap="round"/>
<line x1="1518.00" y1="155.75" x2="1518.00" y2="175.00" stroke="#000" stroke-width="3.1" stroke-linecap="butt"/>
<line x1="1510.65" y1="155.75" x2="1525.35" y2="155.75" stroke="#000" stroke-width="3.1" stroke-linecap="round"/>
<line x1="1510.65" y1="175.00" x2="1525.35" y2="175.00" stroke="#000" stroke-width="3.1" stroke-linecap="round"/>
<line x1="1518.00" y1="370.75" x2="1518.00" y2="380.50" stroke="#000" stroke-width="3.1" stroke-linecap="butt"/>
<line x1="1510.65" y1="370.75" x2="1525.35" y2="370.75" stroke="#000" stroke-width="3.1" stroke-linecap="round"/>
<line x1="1510.65" y1="380.50" x2="1525.35" y2="380.50" stroke="#000" stroke-width="3.1" stroke-linecap="round"/>
<line x1="1563.70" y1="172.50" x2="1563.70" y2="181.25" stroke="#000" stroke-width="3.1" stroke-linecap="butt"/>
<line x1="1556.35" y1="172.50" x2="1571.05" y2="172.50" stroke="#000" stroke-width="3.1" stroke-linecap="round"/>
<line x1="1556.35" y1="181.25" x2="1571.05" y2="181.25" stroke="#000" stroke-width="3.1" stroke-linecap="round"/>
<line x1="1563.70" y1="350.75" x2="1563.70" y2="365.00" stroke="#000" stroke-width="3.1" stroke-linecap="butt"/>
<line x1="1556.35" y1="350.75" x2="1571.05" y2="350.75" stroke="#000" stroke-width="3.1" stroke-linecap="round"/>
<line x1="1556.35" y1="365.00" x2="1571.05" y2="365.00" stroke="#000" stroke-width="3.1" stroke-linecap="round"/>
<text x="1477.12" y="148.95" fill="#000" transform="rotate(-90 1477.12 148.95)" style="font-family:'DejaVu Sans',sans-serif;font-size:17.0px;letter-spacing:0.67px">★★★</text>
<text x="1524.92" y="154.35" fill="#000" transform="rotate(-90 1524.92 154.35)" style="font-family:'DejaVu Sans',sans-serif;font-size:17.0px;letter-spacing:0.67px">★★★★</text>
<text x="1568.72" y="169.55" fill="#000" transform="rotate(-90 1568.72 169.55)" style="font-family:'DejaVu Sans',sans-serif;font-size:17.0px;letter-spacing:0.57px">★★★★</text>
<text x="1477.32" y="430.25" fill="#000" transform="rotate(-90 1477.32 430.25)" style="font-family:'DejaVu Sans',sans-serif;font-size:17.0px;letter-spacing:0.32px">★★★</text>
<text x="1524.92" y="420.35" fill="#000" transform="rotate(-90 1524.92 420.35)" style="font-family:'DejaVu Sans',sans-serif;font-size:17.0px;letter-spacing:0.77px">★★</text>
<text x="1570.82" y="416.25" fill="#000" transform="rotate(-90 1570.82 416.25)" style="font-family:'DejaVu Sans',sans-serif;font-size:17.0px;letter-spacing:0.47px">★★★</text>
<text text-anchor="middle" fill="#000" stroke="#000" stroke-width="0.35" style="font-size:29.6px;letter-spacing:-1.0px;" transform="translate(1325.00 272.80) rotate(-90) scale(1 1.02)">Moving lysosomes velocity (µm/sec)</text>
<text text-anchor="end" fill="#000" stroke="#000" stroke-width="0.35" style="font-size:29.6px;letter-spacing:-0.2px;font-kerning:none;" transform="translate(1434.20 512.90) rotate(-45)">WT+sh-Control</text>
<text text-anchor="end" fill="#000" stroke="#000" stroke-width="0.35" style="font-size:29.6px;letter-spacing:-0.2px;font-kerning:none;" transform="translate(1479.70 512.90) rotate(-45)">WT+sh-Elp3</text>
<text text-anchor="end" fill="#000" stroke="#000" stroke-width="0.35" style="font-size:29.6px;letter-spacing:-0.2px;font-kerning:none;" transform="translate(1525.45 512.90) rotate(-45)">Atat1 KO+sh-Control</text>
<text text-anchor="end" fill="#000" stroke="#000" stroke-width="0.35" style="font-size:29.6px;letter-spacing:-0.2px;font-kerning:none;" transform="translate(1570.95 512.90) rotate(-45)">Atat1 KO+sh-Elp3</text>
<rect x="1716.85" y="318.35" width="29.60" height="167.65" fill="#8eafdd" stroke="#000" stroke-width="1.7"/>
<rect x="1762.35" y="199.60" width="29.55" height="286.40" fill="#c9a067" stroke="#000" stroke-width="1.7"/>
<rect x="1807.85" y="132.10" width="29.55" height="353.90" fill="#ff86fb" stroke="#000" stroke-width="1.7"/>
<rect x="1853.35" y="119.60" width="29.30" height="366.40" fill="#e5888d" stroke="#000" stroke-width="1.7"/>
<line x1="1709.20" y1="67.35" x2="1709.20" y2="487.55" stroke="#111" stroke-width="3.1" stroke-linecap="butt"/>
<line x1="1694.70" y1="486.00" x2="1890.25" y2="486.00" stroke="#111" stroke-width="3.1" stroke-linecap="butt"/>
<line x1="1694.70" y1="68.90" x2="1709.20" y2="68.90" stroke="#111" stroke-width="3.1" stroke-linecap="butt"/>
<text text-anchor="end" fill="#000" stroke="#000" stroke-width="0.35" style="font-size:30.8px;letter-spacing:-0.85px;" transform="translate(1692.40 81.10)">60</text>
<line x1="1694.70" y1="208.20" x2="1709.20" y2="208.20" stroke="#111" stroke-width="3.1" stroke-linecap="butt"/>
<text text-anchor="end" fill="#000" stroke="#000" stroke-width="0.35" style="font-size:30.8px;letter-spacing:-0.85px;" transform="translate(1692.40 220.40)">40</text>
<line x1="1694.70" y1="347.10" x2="1709.20" y2="347.10" stroke="#111" stroke-width="3.1" stroke-linecap="butt"/>
<text text-anchor="end" fill="#000" stroke="#000" stroke-width="0.35" style="font-size:30.8px;letter-spacing:-0.85px;" transform="translate(1692.40 359.30)">20</text>
<line x1="1694.70" y1="486.00" x2="1709.20" y2="486.00" stroke="#111" stroke-width="3.1" stroke-linecap="butt"/>
<text text-anchor="end" fill="#000" stroke="#000" stroke-width="0.35" style="font-size:30.8px;letter-spacing:-0.85px;" transform="translate(1692.40 498.20)">0</text>
<line x1="1731.60" y1="486.00" x2="1731.60" y2="501.50" stroke="#111" stroke-width="3.1" stroke-linecap="butt"/>
<line x1="1777.40" y1="486.00" x2="1777.40" y2="501.50" stroke="#111" stroke-width="3.1" stroke-linecap="butt"/>
<line x1="1822.60" y1="486.00" x2="1822.60" y2="501.50" stroke="#111" stroke-width="3.1" stroke-linecap="butt"/>
<line x1="1868.20" y1="486.00" x2="1868.20" y2="501.50" stroke="#111" stroke-width="3.1" stroke-linecap="butt"/>
<line x1="1731.40" y1="304.25" x2="1731.40" y2="332.00" stroke="#000" stroke-width="3.1" stroke-linecap="butt"/>
<line x1="1724.05" y1="304.25" x2="1738.75" y2="304.25" stroke="#000" stroke-width="3.1" stroke-linecap="round"/>
<line x1="1724.05" y1="332.00" x2="1738.75" y2="332.00" stroke="#000" stroke-width="3.1" stroke-linecap="round"/>
<line x1="1777.10" y1="172.50" x2="1777.10" y2="226.25" stroke="#000" stroke-width="3.1" stroke-linecap="butt"/>
<line x1="1769.75" y1="172.50" x2="1784.45" y2="172.50" stroke="#000" stroke-width="3.1" stroke-linecap="round"/>
<line x1="1769.75" y1="226.25" x2="1784.45" y2="226.25" stroke="#000" stroke-width="3.1" stroke-linecap="round"/>
<line x1="1822.60" y1="115.75" x2="1822.60" y2="148.00" stroke="#000" stroke-width="3.1" stroke-linecap="butt"/>
<line x1="1815.25" y1="115.75" x2="1829.95" y2="115.75" stroke="#000" stroke-width="3.1" stroke-linecap="round"/>
<line x1="1815.25" y1="148.00" x2="1829.95" y2="148.00" stroke="#000" stroke-width="3.1" stroke-linecap="round"/>
<line x1="1868.00" y1="90.00" x2="1868.00" y2="148.00" stroke="#000" stroke-width="3.1" stroke-linecap="butt"/>
<line x1="1860.65" y1="90.00" x2="1875.35" y2="90.00" stroke="#000" stroke-width="3.1" stroke-linecap="round"/>
<line x1="1860.65" y1="148.00" x2="1875.35" y2="148.00" stroke="#000" stroke-width="3.1" stroke-linecap="round"/>
<text x="1783.12" y="165.65" fill="#000" transform="rotate(-90 1783.12 165.65)" style="font-family:'DejaVu Sans',sans-serif;font-size:17.0px;letter-spacing:0.89px">★★★</text>
<text x="1829.62" y="107.15" fill="#000" transform="rotate(-90 1829.62 107.15)" style="font-family:'DejaVu Sans',sans-serif;font-size:17.0px;letter-spacing:1.02px">★★★</text>
<text x="1874.62" y="83.90" fill="#000" transform="rotate(-90 1874.62 83.90)" style="font-family:'DejaVu Sans',sans-serif;font-size:17.0px;letter-spacing:0.39px">★★★</text>
<text text-anchor="middle" fill="#000" stroke="#000" stroke-width="0.35" style="font-size:29.6px;letter-spacing:-0.8px;" transform="translate(1644.00 281.00) rotate(-90) scale(1 1.02)">Pausing time (%) lysosomes</text>
<text text-anchor="end" fill="#000" stroke="#000" stroke-width="0.35" style="font-size:29.6px;letter-spacing:-0.2px;font-kerning:none;" transform="translate(1739.80 523.80) rotate(-45)">WT+sh-Control</text>
<text text-anchor="end" fill="#000" stroke="#000" stroke-width="0.35" style="font-size:29.6px;letter-spacing:-0.2px;font-kerning:none;" transform="translate(1785.60 523.80) rotate(-45)">WT+sh-Elp3</text>
<text text-anchor="end" fill="#000" stroke="#000" stroke-width="0.35" style="font-size:29.6px;letter-spacing:-0.2px;font-kerning:none;" transform="translate(1830.80 523.80) rotate(-45)">Atat1 KO+sh-Control</text>
<text text-anchor="end" fill="#000" stroke="#000" stroke-width="0.35" style="font-size:29.6px;letter-spacing:-0.2px;font-kerning:none;" transform="translate(1876.40 523.80) rotate(-45)">Atat1 KO+sh-Elp3</text>
<rect x="112.60" y="1000.85" width="28.30" height="206.85" fill="#7b9fd4" stroke="#000" stroke-width="1.7"/>
<rect x="155.85" y="1122.60" width="27.80" height="85.10" fill="#bbdf83" stroke="#000" stroke-width="1.7"/>
<rect x="198.85" y="1110.85" width="27.80" height="96.85" fill="#ddb173" stroke="#000" stroke-width="1.7"/>
<rect x="242.10" y="1168.35" width="27.55" height="39.35" fill="#e0747c" stroke="#000" stroke-width="1.7"/>
<rect x="285.10" y="912.85" width="27.80" height="294.85" fill="#e891e8" stroke="#000" stroke-width="1.7"/>
<rect x="328.35" y="980.10" width="27.80" height="227.60" fill="#a488d3" stroke="#000" stroke-width="1.7"/>
<rect x="371.60" y="965.85" width="27.80" height="241.85" fill="#5563a0" stroke="#000" stroke-width="1.7"/>
<line x1="105.50" y1="790.70" x2="105.50" y2="1209.00" stroke="#111" stroke-width="2.6" stroke-linecap="butt"/>
<line x1="91.00" y1="1207.70" x2="408.00" y2="1207.70" stroke="#111" stroke-width="2.6" stroke-linecap="butt"/>
<line x1="91.00" y1="792.00" x2="105.50" y2="792.00" stroke="#111" stroke-width="2.6" stroke-linecap="butt"/>
<text text-anchor="end" fill="#000" stroke="#000" stroke-width="0.35" style="font-size:30.8px;letter-spacing:-0.85px;" transform="translate(88.70 804.20)">2.0</text>
<line x1="91.00" y1="896.25" x2="105.50" y2="896.25" stroke="#111" stroke-width="2.6" stroke-linecap="butt"/>
<text text-anchor="end" fill="#000" stroke="#000" stroke-width="0.35" style="font-size:30.8px;letter-spacing:-0.85px;" transform="translate(88.70 908.45)">1.5</text>
<line x1="91.00" y1="1000.00" x2="105.50" y2="1000.00" stroke="#111" stroke-width="2.6" stroke-linecap="butt"/>
<text text-anchor="end" fill="#000" stroke="#000" stroke-width="0.35" style="font-size:30.8px;letter-spacing:-0.85px;" transform="translate(88.70 1012.20)">1.0</text>
<line x1="91.00" y1="1103.75" x2="105.50" y2="1103.75" stroke="#111" stroke-width="2.6" stroke-linecap="butt"/>
<text text-anchor="end" fill="#000" stroke="#000" stroke-width="0.35" style="font-size:30.8px;letter-spacing:-0.85px;" transform="translate(88.70 1115.95)">0.5</text>
<line x1="91.00" y1="1207.70" x2="105.50" y2="1207.70" stroke="#111" stroke-width="2.6" stroke-linecap="butt"/>
<text text-anchor="end" fill="#000" stroke="#000" stroke-width="0.35" style="font-size:30.8px;letter-spacing:-0.85px;" transform="translate(88.70 1219.90)">0.0</text>
<line x1="126.75" y1="1207.70" x2="126.75" y2="1223.20" stroke="#111" stroke-width="2.6" stroke-linecap="butt"/>
<line x1="170.00" y1="1207.70" x2="170.00" y2="1223.20" stroke="#111" stroke-width="2.6" stroke-linecap="butt"/>
<line x1="212.75" y1="1207.70" x2="212.75" y2="1223.20" stroke="#111" stroke-width="2.6" stroke-linecap="butt"/>
<line x1="255.75" y1="1207.70" x2="255.75" y2="1223.20" stroke="#111" stroke-width="2.6" stroke-linecap="butt"/>
<line x1="299.00" y1="1207.70" x2="299.00" y2="1223.20" stroke="#111" stroke-width="2.6" stroke-linecap="butt"/>
<line x1="342.25" y1="1207.70" x2="342.25" y2="1223.20" stroke="#111" stroke-width="2.6" stroke-linecap="butt"/>
<line x1="385.50" y1="1207.70" x2="385.50" y2="1223.20" stroke="#111" stroke-width="2.6" stroke-linecap="butt"/>
<line x1="126.75" y1="986.75" x2="126.75" y2="1013.75" stroke="#000" stroke-width="2.6" stroke-linecap="butt"/>
<line x1="119.15" y1="986.75" x2="134.35" y2="986.75" stroke="#000" stroke-width="2.6" stroke-linecap="round"/>
<line x1="119.15" y1="1013.75" x2="134.35" y2="1013.75" stroke="#000" stroke-width="2.6" stroke-linecap="round"/>
<line x1="169.75" y1="1111.25" x2="169.75" y2="1132.50" stroke="#000" stroke-width="2.6" stroke-linecap="butt"/>
<line x1="162.15" y1="1111.25" x2="177.35" y2="1111.25" stroke="#000" stroke-width="2.6" stroke-linecap="round"/>
<line x1="162.15" y1="1132.50" x2="177.35" y2="1132.50" stroke="#000" stroke-width="2.6" stroke-linecap="round"/>
<line x1="212.75" y1="1102.50" x2="212.75" y2="1118.75" stroke="#000" stroke-width="2.6" stroke-linecap="butt"/>
<line x1="205.15" y1="1102.50" x2="220.35" y2="1102.50" stroke="#000" stroke-width="2.6" stroke-linecap="round"/>
<line x1="205.15" y1="1118.75" x2="220.35" y2="1118.75" stroke="#000" stroke-width="2.6" stroke-linecap="round"/>
<line x1="255.88" y1="1160.00" x2="255.88" y2="1175.50" stroke="#000" stroke-width="2.6" stroke-linecap="butt"/>
<line x1="248.28" y1="1160.00" x2="263.47" y2="1160.00" stroke="#000" stroke-width="2.6" stroke-linecap="round"/>
<line x1="248.28" y1="1175.50" x2="263.47" y2="1175.50" stroke="#000" stroke-width="2.6" stroke-linecap="round"/>
<line x1="299.00" y1="888.00" x2="299.00" y2="937.50" stroke="#000" stroke-width="2.6" stroke-linecap="butt"/>
<line x1="291.40" y1="888.00" x2="306.60" y2="888.00" stroke="#000" stroke-width="2.6" stroke-linecap="round"/>
<line x1="291.40" y1="937.50" x2="306.60" y2="937.50" stroke="#000" stroke-width="2.6" stroke-linecap="round"/>
<line x1="342.25" y1="960.00" x2="342.25" y2="998.25" stroke="#000" stroke-width="2.6" stroke-linecap="butt"/>
<line x1="334.65" y1="960.00" x2="349.85" y2="960.00" stroke="#000" stroke-width="2.6" stroke-linecap="round"/>
<line x1="334.65" y1="998.25" x2="349.85" y2="998.25" stroke="#000" stroke-width="2.6" stroke-linecap="round"/>
<line x1="385.50" y1="925.00" x2="385.50" y2="1006.25" stroke="#000" stroke-width="2.6" stroke-linecap="butt"/>
<line x1="377.90" y1="925.00" x2="393.10" y2="925.00" stroke="#000" stroke-width="2.6" stroke-linecap="round"/>
<line x1="377.90" y1="1006.25" x2="393.10" y2="1006.25" stroke="#000" stroke-width="2.6" stroke-linecap="round"/>
<text x="176.12" y="1105.15" fill="#000" transform="rotate(-90 176.12 1105.15)" style="font-family:'DejaVu Sans',sans-serif;font-size:17.0px;letter-spacing:0.64px">★★★</text>
<text x="217.42" y="1097.65" fill="#000" transform="rotate(-90 217.42 1097.65)" style="font-family:'DejaVu Sans',sans-serif;font-size:17.0px;letter-spacing:0.39px">★★★</text>
<text x="261.62" y="1150.65" fill="#000" transform="rotate(-90 261.62 1150.65)" style="font-family:'DejaVu Sans',sans-serif;font-size:17.0px;letter-spacing:0.60px">★★★★</text>
<text text-anchor="middle" fill="#000" stroke="#000" stroke-width="0.35" style="font-size:29.6px;letter-spacing:-0.5px;" transform="translate(298.25 874.25)">ns</text>
<text text-anchor="middle" fill="#000" stroke="#000" stroke-width="0.35" style="font-size:29.6px;letter-spacing:-0.5px;" transform="translate(385.50 911.25)">ns</text>
<text text-anchor="middle" fill="#000" stroke="#000" stroke-width="0.35" style="font-size:29.6px;letter-spacing:-0.5px;" transform="translate(342.00 947.50)">ns</text>
<text text-anchor="middle" fill="#000" stroke="#000" stroke-width="0.35" style="font-size:29.6px;letter-spacing:-0.5px;" transform="translate(233.00 1022.00)">ns</text>
<path d="M209.5 1048.75 V1034.5 H255.75 V1053" fill="none" stroke="#111" stroke-width="1.6"/>
<text text-anchor="middle" fill="#000" stroke="#000" stroke-width="0.35" style="font-size:29.6px;letter-spacing:-0.8px;" transform="translate(32.80 1003.00) rotate(-90) scale(1 1.02)">Acetylated α-Tubulin/Total Tubulin</text>
<text text-anchor="end" fill="#000" stroke="#000" stroke-width="0.35" style="font-size:29.6px;letter-spacing:-0.2px;font-kerning:none;" transform="translate(134.95 1245.50) rotate(-45)">Control</text>
<text text-anchor="end" fill="#000" stroke="#000" stroke-width="0.35" style="font-size:29.6px;letter-spacing:-0.2px;font-kerning:none;" transform="translate(178.20 1245.50) rotate(-45)">Elp1 KD </text>
<text text-anchor="end" fill="#000" stroke="#000" stroke-width="0.35" style="font-size:29.6px;letter-spacing:-0.2px;font-kerning:none;" transform="translate(220.95 1245.50) rotate(-45)">Elp3 KD</text>
<text text-anchor="end" fill="#000" stroke="#000" stroke-width="0.35" style="font-size:29.6px;letter-spacing:-0.2px;font-kerning:none;" transform="translate(263.95 1245.50) rotate(-45)">Elp3;Atat1 KD</text>
<text text-anchor="end" fill="#000" stroke="#000" stroke-width="0.35" style="font-size:29.6px;letter-spacing:-0.2px;font-kerning:none;" transform="translate(307.20 1245.50) rotate(-45)">Elp3 KD+ELP3   </text>
<text text-anchor="end" fill="#000" stroke="#000" stroke-width="0.35" style="font-size:29.6px;letter-spacing:-0.2px;font-kerning:none;" transform="translate(350.45 1245.50) rotate(-45)">Elp1;Hdac6 KD </text>
<text text-anchor="end" fill="#000" stroke="#000" stroke-width="0.35" style="font-size:29.6px;letter-spacing:-0.2px;font-kerning:none;" transform="translate(393.70 1245.50) rotate(-45)">Elp3;Hdac6 KD</text>
<rect x="1627.35" y="841.60" width="27.10" height="358.50" fill="#7b9fd4" stroke="#000" stroke-width="1.7"/>
<rect x="1668.25" y="997.10" width="27.10" height="203.00" fill="#bbdf83" stroke="#000" stroke-width="1.7"/>
<rect x="1709.35" y="1024.10" width="27.10" height="176.00" fill="#ddb173" stroke="#000" stroke-width="1.7"/>
<rect x="1750.45" y="1061.60" width="27.10" height="138.50" fill="#e0747c" stroke="#000" stroke-width="1.7"/>
<rect x="1791.55" y="861.35" width="27.10" height="338.75" fill="#e891e8" stroke="#000" stroke-width="1.7"/>
<rect x="1832.45" y="889.10" width="27.10" height="311.00" fill="#a488d3" stroke="#000" stroke-width="1.7"/>
<rect x="1873.45" y="890.85" width="27.10" height="309.25" fill="#5563a0" stroke="#000" stroke-width="1.7"/>
<line x1="1613.60" y1="782.95" x2="1613.60" y2="1201.40" stroke="#111" stroke-width="2.6" stroke-linecap="butt"/>
<line x1="1599.10" y1="1200.10" x2="1916.00" y2="1200.10" stroke="#111" stroke-width="2.6" stroke-linecap="butt"/>
<line x1="1599.10" y1="784.25" x2="1613.60" y2="784.25" stroke="#111" stroke-width="2.6" stroke-linecap="butt"/>
<text text-anchor="end" fill="#000" stroke="#000" stroke-width="0.35" style="font-size:30.8px;letter-spacing:-0.85px;" transform="translate(1596.80 796.45)">0.8</text>
<line x1="1599.10" y1="888.00" x2="1613.60" y2="888.00" stroke="#111" stroke-width="2.6" stroke-linecap="butt"/>
<text text-anchor="end" fill="#000" stroke="#000" stroke-width="0.35" style="font-size:30.8px;letter-spacing:-0.85px;" transform="translate(1596.80 900.20)">0.6</text>
<line x1="1599.10" y1="992.00" x2="1613.60" y2="992.00" stroke="#111" stroke-width="2.6" stroke-linecap="butt"/>
<text text-anchor="end" fill="#000" stroke="#000" stroke-width="0.35" style="font-size:30.8px;letter-spacing:-0.85px;" transform="translate(1596.80 1004.20)">0.4</text>
<line x1="1599.10" y1="1095.50" x2="1613.60" y2="1095.50" stroke="#111" stroke-width="2.6" stroke-linecap="butt"/>
<text text-anchor="end" fill="#000" stroke="#000" stroke-width="0.35" style="font-size:30.8px;letter-spacing:-0.85px;" transform="translate(1596.80 1107.70)">0.2</text>
<line x1="1599.10" y1="1200.10" x2="1613.60" y2="1200.10" stroke="#111" stroke-width="2.6" stroke-linecap="butt"/>
<text text-anchor="end" fill="#000" stroke="#000" stroke-width="0.35" style="font-size:30.8px;letter-spacing:-0.85px;" transform="translate(1596.80 1212.30)">0.0</text>
<line x1="1640.90" y1="1200.10" x2="1640.90" y2="1215.60" stroke="#111" stroke-width="2.6" stroke-linecap="butt"/>
<line x1="1682.00" y1="1200.10" x2="1682.00" y2="1215.60" stroke="#111" stroke-width="2.6" stroke-linecap="butt"/>
<line x1="1723.20" y1="1200.10" x2="1723.20" y2="1215.60" stroke="#111" stroke-width="2.6" stroke-linecap="butt"/>
<line x1="1764.00" y1="1200.10" x2="1764.00" y2="1215.60" stroke="#111" stroke-width="2.6" stroke-linecap="butt"/>
<line x1="1805.20" y1="1200.10" x2="1805.20" y2="1215.60" stroke="#111" stroke-width="2.6" stroke-linecap="butt"/>
<line x1="1846.20" y1="1200.10" x2="1846.20" y2="1215.60" stroke="#111" stroke-width="2.6" stroke-linecap="butt"/>
<line x1="1887.40" y1="1200.10" x2="1887.40" y2="1215.60" stroke="#111" stroke-width="2.6" stroke-linecap="butt"/>
<line x1="1640.90" y1="827.00" x2="1640.90" y2="855.50" stroke="#000" stroke-width="2.6" stroke-linecap="butt"/>
<line x1="1633.80" y1="827.00" x2="1648.00" y2="827.00" stroke="#000" stroke-width="2.6" stroke-linecap="round"/>
<line x1="1633.80" y1="855.50" x2="1648.00" y2="855.50" stroke="#000" stroke-width="2.6" stroke-linecap="round"/>
<line x1="1681.80" y1="985.50" x2="1681.80" y2="1007.50" stroke="#000" stroke-width="2.6" stroke-linecap="butt"/>
<line x1="1674.70" y1="985.50" x2="1688.90" y2="985.50" stroke="#000" stroke-width="2.6" stroke-linecap="round"/>
<line x1="1674.70" y1="1007.50" x2="1688.90" y2="1007.50" stroke="#000" stroke-width="2.6" stroke-linecap="round"/>
<line x1="1722.90" y1="1010.00" x2="1722.90" y2="1037.00" stroke="#000" stroke-width="2.6" stroke-linecap="butt"/>
<line x1="1715.80" y1="1010.00" x2="1730.00" y2="1010.00" stroke="#000" stroke-width="2.6" stroke-linecap="round"/>
<line x1="1715.80" y1="1037.00" x2="1730.00" y2="1037.00" stroke="#000" stroke-width="2.6" stroke-linecap="round"/>
<line x1="1764.00" y1="1053.00" x2="1764.00" y2="1069.25" stroke="#000" stroke-width="2.6" stroke-linecap="butt"/>
<line x1="1756.90" y1="1053.00" x2="1771.10" y2="1053.00" stroke="#000" stroke-width="2.6" stroke-linecap="round"/>
<line x1="1756.90" y1="1069.25" x2="1771.10" y2="1069.25" stroke="#000" stroke-width="2.6" stroke-linecap="round"/>
<line x1="1805.10" y1="846.25" x2="1805.10" y2="875.00" stroke="#000" stroke-width="2.6" stroke-linecap="butt"/>
<line x1="1798.00" y1="846.25" x2="1812.20" y2="846.25" stroke="#000" stroke-width="2.6" stroke-linecap="round"/>
<line x1="1798.00" y1="875.00" x2="1812.20" y2="875.00" stroke="#000" stroke-width="2.6" stroke-linecap="round"/>
<line x1="1846.00" y1="865.75" x2="1846.00" y2="911.75" stroke="#000" stroke-width="2.6" stroke-linecap="butt"/>
<line x1="1838.90" y1="865.75" x2="1853.10" y2="865.75" stroke="#000" stroke-width="2.6" stroke-linecap="round"/>
<line x1="1838.90" y1="911.75" x2="1853.10" y2="911.75" stroke="#000" stroke-width="2.6" stroke-linecap="round"/>
<line x1="1887.00" y1="878.25" x2="1887.00" y2="902.50" stroke="#000" stroke-width="2.6" stroke-linecap="butt"/>
<line x1="1879.90" y1="878.25" x2="1894.10" y2="878.25" stroke="#000" stroke-width="2.6" stroke-linecap="round"/>
<line x1="1879.90" y1="902.50" x2="1894.10" y2="902.50" stroke="#000" stroke-width="2.6" stroke-linecap="round"/>
<text x="1688.12" y="980.15" fill="#000" transform="rotate(-90 1688.12 980.15)" style="font-family:'DejaVu Sans',sans-serif;font-size:17.0px;letter-spacing:0.60px">★★★★</text>
<text x="1728.62" y="1005.15" fill="#000" transform="rotate(-90 1728.62 1005.15)" style="font-family:'DejaVu Sans',sans-serif;font-size:17.0px;letter-spacing:0.35px">★★★★</text>
<text x="1769.12" y="1049.40" fill="#000" transform="rotate(-90 1769.12 1049.40)" style="font-family:'DejaVu Sans',sans-serif;font-size:17.0px;letter-spacing:0.52px">★★★★</text>
<text text-anchor="middle" fill="#000" stroke="#000" stroke-width="0.35" style="font-size:29.6px;letter-spacing:-0.5px;" transform="translate(1807.75 830.00)">ns</text>
<text text-anchor="middle" fill="#000" stroke="#000" stroke-width="0.35" style="font-size:29.6px;letter-spacing:-0.5px;" transform="translate(1847.75 852.50)">ns</text>
<text text-anchor="middle" fill="#000" stroke="#000" stroke-width="0.35" style="font-size:29.6px;letter-spacing:-0.5px;" transform="translate(1887.75 868.25)">ns</text>
<text text-anchor="middle" fill="#000" stroke="#000" stroke-width="0.35" style="font-size:29.6px;letter-spacing:-0.8px;" transform="translate(1541.50 996.00) rotate(-90) scale(1 1.02)">Av. SYT1-GFP velocity (µm/sec)</text>
<text text-anchor="end" fill="#000" stroke="#000" stroke-width="0.35" style="font-size:29.6px;letter-spacing:-0.2px;font-kerning:none;" transform="translate(1649.10 1237.90) rotate(-45)">Control</text>
<text text-anchor="end" fill="#000" stroke="#000" stroke-width="0.35" style="font-size:29.6px;letter-spacing:-0.2px;font-kerning:none;" transform="translate(1690.20 1237.90) rotate(-45)">Elp1 KD </text>
<text text-anchor="end" fill="#000" stroke="#000" stroke-width="0.35" style="font-size:29.6px;letter-spacing:-0.2px;font-kerning:none;" transform="translate(1731.40 1237.90) rotate(-45)">Elp3 KD</text>
<text text-anchor="end" fill="#000" stroke="#000" stroke-width="0.35" style="font-size:29.6px;letter-spacing:-0.2px;font-kerning:none;" transform="translate(1772.20 1237.90) rotate(-45)">Elp3;Atat1 KD</text>
<text text-anchor="end" fill="#000" stroke="#000" stroke-width="0.35" style="font-size:29.6px;letter-spacing:-0.2px;font-kerning:none;" transform="translate(1813.40 1237.90) rotate(-45)">Elp3 KD+ELP3   </text>
<text text-anchor="end" fill="#000" stroke="#000" stroke-width="0.35" style="font-size:29.6px;letter-spacing:-0.2px;font-kerning:none;" transform="translate(1854.40 1237.90) rotate(-45)">Elp1;Hdac6 KD </text>
<text text-anchor="end" fill="#000" stroke="#000" stroke-width="0.35" style="font-size:29.6px;letter-spacing:-0.2px;font-kerning:none;" transform="translate(1895.60 1237.90) rotate(-45)">Elp3;Hdac6 KD</text>
<rect x="111.60" y="1532.85" width="27.55" height="294.55" fill="#7b9fd4" stroke="#000" stroke-width="1.7"/>
<rect x="154.60" y="1594.60" width="27.30" height="186.55" fill="#bbdf83" stroke="#000" stroke-width="1.7"/>
<rect x="197.85" y="1602.85" width="27.55" height="175.05" fill="#ddb173" stroke="#000" stroke-width="1.7"/>
<rect x="240.85" y="1598.35" width="27.55" height="170.80" fill="#e0747c" stroke="#000" stroke-width="1.7"/>
<rect x="283.85" y="1550.35" width="27.80" height="281.80" fill="#e891e8" stroke="#000" stroke-width="1.7"/>
<rect x="327.10" y="1554.10" width="27.55" height="261.30" fill="#a488d3" stroke="#000" stroke-width="1.7"/>
<rect x="370.35" y="1553.85" width="27.55" height="262.30" fill="#5563a0" stroke="#000" stroke-width="1.7"/>
<line x1="103.25" y1="1689.50" x2="405.50" y2="1689.50" stroke="#111" stroke-width="2.6" stroke-linecap="butt"/>
<line x1="103.25" y1="1479.95" x2="103.25" y2="1898.90" stroke="#111" stroke-width="2.6" stroke-linecap="butt"/>
<line x1="88.75" y1="1897.60" x2="405.50" y2="1897.60" stroke="#111" stroke-width="2.6" stroke-linecap="butt"/>
<line x1="88.75" y1="1481.25" x2="103.25" y2="1481.25" stroke="#111" stroke-width="2.6" stroke-linecap="butt"/>
<text text-anchor="end" fill="#000" stroke="#000" stroke-width="0.35" style="font-size:30.8px;letter-spacing:-0.85px;" transform="translate(86.45 1493.45)">1.0</text>
<line x1="88.75" y1="1523.00" x2="103.25" y2="1523.00" stroke="#111" stroke-width="2.6" stroke-linecap="butt"/>
<text text-anchor="end" fill="#000" stroke="#000" stroke-width="0.35" style="font-size:30.8px;letter-spacing:-0.85px;" transform="translate(86.45 1535.20)">0.8</text>
<line x1="88.75" y1="1564.50" x2="103.25" y2="1564.50" stroke="#111" stroke-width="2.6" stroke-linecap="butt"/>
<text text-anchor="end" fill="#000" stroke="#000" stroke-width="0.35" style="font-size:30.8px;letter-spacing:-0.85px;" transform="translate(86.45 1576.70)">0.6</text>
<line x1="88.75" y1="1606.25" x2="103.25" y2="1606.25" stroke="#111" stroke-width="2.6" stroke-linecap="butt"/>
<text text-anchor="end" fill="#000" stroke="#000" stroke-width="0.35" style="font-size:30.8px;letter-spacing:-0.85px;" transform="translate(86.45 1618.45)">0.4</text>
<line x1="88.75" y1="1648.00" x2="103.25" y2="1648.00" stroke="#111" stroke-width="2.6" stroke-linecap="butt"/>
<text text-anchor="end" fill="#000" stroke="#000" stroke-width="0.35" style="font-size:30.8px;letter-spacing:-0.85px;" transform="translate(86.45 1660.20)">0.2</text>
<line x1="88.75" y1="1689.50" x2="103.25" y2="1689.50" stroke="#111" stroke-width="2.6" stroke-linecap="butt"/>
<text text-anchor="end" fill="#000" stroke="#000" stroke-width="0.35" style="font-size:30.8px;letter-spacing:-0.85px;" transform="translate(86.45 1701.70)">0.0</text>
<line x1="88.75" y1="1731.25" x2="103.25" y2="1731.25" stroke="#111" stroke-width="2.6" stroke-linecap="butt"/>
<text text-anchor="end" fill="#000" stroke="#000" stroke-width="0.35" style="font-size:30.8px;letter-spacing:-0.85px;" transform="translate(86.45 1743.45)">-0.2</text>
<line x1="88.75" y1="1773.00" x2="103.25" y2="1773.00" stroke="#111" stroke-width="2.6" stroke-linecap="butt"/>
<text text-anchor="end" fill="#000" stroke="#000" stroke-width="0.35" style="font-size:30.8px;letter-spacing:-0.85px;" transform="translate(86.45 1785.20)">-0.4</text>
<line x1="88.75" y1="1814.50" x2="103.25" y2="1814.50" stroke="#111" stroke-width="2.6" stroke-linecap="butt"/>
<text text-anchor="end" fill="#000" stroke="#000" stroke-width="0.35" style="font-size:30.8px;letter-spacing:-0.85px;" transform="translate(86.45 1826.70)">-0.6</text>
<line x1="88.75" y1="1856.25" x2="103.25" y2="1856.25" stroke="#111" stroke-width="2.6" stroke-linecap="butt"/>
<text text-anchor="end" fill="#000" stroke="#000" stroke-width="0.35" style="font-size:30.8px;letter-spacing:-0.85px;" transform="translate(86.45 1868.45)">-0.8</text>
<line x1="88.75" y1="1897.60" x2="103.25" y2="1897.60" stroke="#111" stroke-width="2.6" stroke-linecap="butt"/>
<text text-anchor="end" fill="#000" stroke="#000" stroke-width="0.35" style="font-size:30.8px;letter-spacing:-0.85px;" transform="translate(86.45 1909.80)">-1.0</text>
<line x1="124.50" y1="1897.60" x2="124.50" y2="1913.10" stroke="#111" stroke-width="2.6" stroke-linecap="butt"/>
<line x1="167.70" y1="1897.60" x2="167.70" y2="1913.10" stroke="#111" stroke-width="2.6" stroke-linecap="butt"/>
<line x1="211.00" y1="1897.60" x2="211.00" y2="1913.10" stroke="#111" stroke-width="2.6" stroke-linecap="butt"/>
<line x1="253.80" y1="1897.60" x2="253.80" y2="1913.10" stroke="#111" stroke-width="2.6" stroke-linecap="butt"/>
<line x1="297.00" y1="1897.60" x2="297.00" y2="1913.10" stroke="#111" stroke-width="2.6" stroke-linecap="butt"/>
<line x1="341.00" y1="1897.60" x2="341.00" y2="1913.10" stroke="#111" stroke-width="2.6" stroke-linecap="butt"/>
<line x1="384.20" y1="1897.60" x2="384.20" y2="1913.10" stroke="#111" stroke-width="2.6" stroke-linecap="butt"/>
<line x1="125.38" y1="1520.50" x2="125.38" y2="1543.75" stroke="#000" stroke-width="2.6" stroke-linecap="butt"/>
<line x1="118.02" y1="1520.50" x2="132.72" y2="1520.50" stroke="#000" stroke-width="2.6" stroke-linecap="round"/>
<line x1="118.02" y1="1543.75" x2="132.72" y2="1543.75" stroke="#000" stroke-width="2.6" stroke-linecap="round"/>
<line x1="168.25" y1="1589.25" x2="168.25" y2="1598.25" stroke="#000" stroke-width="2.6" stroke-linecap="butt"/>
<line x1="160.90" y1="1589.25" x2="175.60" y2="1589.25" stroke="#000" stroke-width="2.6" stroke-linecap="round"/>
<line x1="160.90" y1="1598.25" x2="175.60" y2="1598.25" stroke="#000" stroke-width="2.6" stroke-linecap="round"/>
<line x1="211.62" y1="1598.00" x2="211.62" y2="1605.75" stroke="#000" stroke-width="2.6" stroke-linecap="butt"/>
<line x1="204.28" y1="1598.00" x2="218.97" y2="1598.00" stroke="#000" stroke-width="2.6" stroke-linecap="round"/>
<line x1="204.28" y1="1605.75" x2="218.97" y2="1605.75" stroke="#000" stroke-width="2.6" stroke-linecap="round"/>
<line x1="254.62" y1="1591.75" x2="254.62" y2="1603.25" stroke="#000" stroke-width="2.6" stroke-linecap="butt"/>
<line x1="247.28" y1="1591.75" x2="261.97" y2="1591.75" stroke="#000" stroke-width="2.6" stroke-linecap="round"/>
<line x1="247.28" y1="1603.25" x2="261.97" y2="1603.25" stroke="#000" stroke-width="2.6" stroke-linecap="round"/>
<line x1="297.75" y1="1539.50" x2="297.75" y2="1558.75" stroke="#000" stroke-width="2.6" stroke-linecap="butt"/>
<line x1="290.40" y1="1539.50" x2="305.10" y2="1539.50" stroke="#000" stroke-width="2.6" stroke-linecap="round"/>
<line x1="290.40" y1="1558.75" x2="305.10" y2="1558.75" stroke="#000" stroke-width="2.6" stroke-linecap="round"/>
<line x1="340.88" y1="1534.50" x2="340.88" y2="1572.50" stroke="#000" stroke-width="2.6" stroke-linecap="butt"/>
<line x1="333.53" y1="1534.50" x2="348.22" y2="1534.50" stroke="#000" stroke-width="2.6" stroke-linecap="round"/>
<line x1="333.53" y1="1572.50" x2="348.22" y2="1572.50" stroke="#000" stroke-width="2.6" stroke-linecap="round"/>
<line x1="384.12" y1="1545.75" x2="384.12" y2="1560.00" stroke="#000" stroke-width="2.6" stroke-linecap="butt"/>
<line x1="376.78" y1="1545.75" x2="391.47" y2="1545.75" stroke="#000" stroke-width="2.6" stroke-linecap="round"/>
<line x1="376.78" y1="1560.00" x2="391.47" y2="1560.00" stroke="#000" stroke-width="2.6" stroke-linecap="round"/>
<line x1="125.38" y1="1818.75" x2="125.38" y2="1837.50" stroke="#000" stroke-width="2.6" stroke-linecap="butt"/>
<line x1="118.02" y1="1818.75" x2="132.72" y2="1818.75" stroke="#000" stroke-width="2.6" stroke-linecap="round"/>
<line x1="118.02" y1="1837.50" x2="132.72" y2="1837.50" stroke="#000" stroke-width="2.6" stroke-linecap="round"/>
<line x1="168.25" y1="1774.25" x2="168.25" y2="1789.50" stroke="#000" stroke-width="2.6" stroke-linecap="butt"/>
<line x1="160.90" y1="1774.25" x2="175.60" y2="1774.25" stroke="#000" stroke-width="2.6" stroke-linecap="round"/>
<line x1="160.90" y1="1789.50" x2="175.60" y2="1789.50" stroke="#000" stroke-width="2.6" stroke-linecap="round"/>
<line x1="211.62" y1="1775.00" x2="211.62" y2="1781.75" stroke="#000" stroke-width="2.6" stroke-linecap="butt"/>
<line x1="204.28" y1="1775.00" x2="218.97" y2="1775.00" stroke="#000" stroke-width="2.6" stroke-linecap="round"/>
<line x1="204.28" y1="1781.75" x2="218.97" y2="1781.75" stroke="#000" stroke-width="2.6" stroke-linecap="round"/>
<line x1="254.62" y1="1765.75" x2="254.62" y2="1774.25" stroke="#000" stroke-width="2.6" stroke-linecap="butt"/>
<line x1="247.28" y1="1765.75" x2="261.97" y2="1765.75" stroke="#000" stroke-width="2.6" stroke-linecap="round"/>
<line x1="247.28" y1="1774.25" x2="261.97" y2="1774.25" stroke="#000" stroke-width="2.6" stroke-linecap="round"/>
<line x1="297.75" y1="1827.00" x2="297.75" y2="1839.25" stroke="#000" stroke-width="2.6" stroke-linecap="butt"/>
<line x1="290.40" y1="1827.00" x2="305.10" y2="1827.00" stroke="#000" stroke-width="2.6" stroke-linecap="round"/>
<line x1="290.40" y1="1839.25" x2="305.10" y2="1839.25" stroke="#000" stroke-width="2.6" stroke-linecap="round"/>
<line x1="340.88" y1="1805.00" x2="340.88" y2="1825.50" stroke="#000" stroke-width="2.6" stroke-linecap="butt"/>
<line x1="333.53" y1="1805.00" x2="348.22" y2="1805.00" stroke="#000" stroke-width="2.6" stroke-linecap="round"/>
<line x1="333.53" y1="1825.50" x2="348.22" y2="1825.50" stroke="#000" stroke-width="2.6" stroke-linecap="round"/>
<line x1="384.12" y1="1810.50" x2="384.12" y2="1823.25" stroke="#000" stroke-width="2.6" stroke-linecap="butt"/>
<line x1="376.78" y1="1810.50" x2="391.47" y2="1810.50" stroke="#000" stroke-width="2.6" stroke-linecap="round"/>
<line x1="376.78" y1="1823.25" x2="391.47" y2="1823.25" stroke="#000" stroke-width="2.6" stroke-linecap="round"/>
<text x="174.62" y="1578.90" fill="#000" transform="rotate(-90 174.62 1578.90)" style="font-family:'DejaVu Sans',sans-serif;font-size:17.0px;letter-spacing:0.27px">★★</text>
<text x="218.12" y="1593.90" fill="#000" transform="rotate(-90 218.12 1593.90)" style="font-family:'DejaVu Sans',sans-serif;font-size:17.0px;letter-spacing:0.02px">★★★★</text>
<text x="260.62" y="1583.40" fill="#000" transform="rotate(-90 260.62 1583.40)" style="font-family:'DejaVu Sans',sans-serif;font-size:17.0px;letter-spacing:0.52px">★★</text>
<text x="174.76" y="1852.70" fill="#000" transform="rotate(-90 174.76 1852.70)" style="font-family:'DejaVu Sans',sans-serif;font-size:16.0px;letter-spacing:-1.00px">★★★★</text>
<text x="218.26" y="1845.00" fill="#000" transform="rotate(-90 218.26 1845.00)" style="font-family:'DejaVu Sans',sans-serif;font-size:16.0px;letter-spacing:-1.20px">★★★★</text>
<text x="260.76" y="1832.30" fill="#000" transform="rotate(-90 260.76 1832.30)" style="font-family:'DejaVu Sans',sans-serif;font-size:16.0px;letter-spacing:-0.97px">★★★★</text>
<text text-anchor="middle" fill="#000" stroke="#000" stroke-width="0.35" style="font-size:29.6px;letter-spacing:-0.5px;" transform="translate(296.75 1532.50)">ns</text>
<text text-anchor="middle" fill="#000" stroke="#000" stroke-width="0.35" style="font-size:29.6px;letter-spacing:-0.5px;" transform="translate(342.50 1521.25)">ns</text>
<text text-anchor="middle" fill="#000" stroke="#000" stroke-width="0.35" style="font-size:29.6px;letter-spacing:-0.5px;" transform="translate(382.50 1530.75)">ns</text>
<text text-anchor="middle" fill="#000" stroke="#000" stroke-width="0.35" style="font-size:29.6px;letter-spacing:-0.5px;" transform="translate(300.00 1861.75)">ns</text>
<text text-anchor="middle" fill="#000" stroke="#000" stroke-width="0.35" style="font-size:29.6px;letter-spacing:-0.5px;" transform="translate(339.25 1850.00)">ns</text>
<text text-anchor="middle" fill="#000" stroke="#000" stroke-width="0.35" style="font-size:29.6px;letter-spacing:-0.5px;" transform="translate(386.25 1852.50)">ns</text>
<text text-anchor="middle" fill="#000" stroke="#000" stroke-width="0.35" style="font-size:29.6px;letter-spacing:-0.8px;" transform="translate(22.50 1694.00) rotate(-90) scale(1 1.02)">Moving SYT1-GFP velocity (µm/sec)</text>
<text text-anchor="end" fill="#000" stroke="#000" stroke-width="0.35" style="font-size:29.6px;letter-spacing:-0.2px;font-kerning:none;" transform="translate(132.70 1935.40) rotate(-45)">Control</text>
<text text-anchor="end" fill="#000" stroke="#000" stroke-width="0.35" style="font-size:29.6px;letter-spacing:-0.2px;font-kerning:none;" transform="translate(175.90 1935.40) rotate(-45)">Elp1 KD </text>
<text text-anchor="end" fill="#000" stroke="#000" stroke-width="0.35" style="font-size:29.6px;letter-spacing:-0.2px;font-kerning:none;" transform="translate(219.20 1935.40) rotate(-45)">Elp3 KD</text>
<text text-anchor="end" fill="#000" stroke="#000" stroke-width="0.35" style="font-size:29.6px;letter-spacing:-0.2px;font-kerning:none;" transform="translate(262.00 1935.40) rotate(-45)">Elp3;Atat1 KD</text>
<text text-anchor="end" fill="#000" stroke="#000" stroke-width="0.35" style="font-size:29.6px;letter-spacing:-0.2px;font-kerning:none;" transform="translate(305.20 1935.40) rotate(-45)">Elp3 KD+ELP3   </text>
<text text-anchor="end" fill="#000" stroke="#000" stroke-width="0.35" style="font-size:29.6px;letter-spacing:-0.2px;font-kerning:none;" transform="translate(349.20 1935.40) rotate(-45)">Elp1;Hdac6 KD </text>
<text text-anchor="end" fill="#000" stroke="#000" stroke-width="0.35" style="font-size:29.6px;letter-spacing:-0.2px;font-kerning:none;" transform="translate(392.40 1935.40) rotate(-45)">Elp3;Hdac6 KD</text>
<rect x="620.85" y="1740.10" width="26.30" height="149.80" fill="#7b9fd4" stroke="#000" stroke-width="1.7"/>
<rect x="662.10" y="1577.60" width="25.80" height="312.30" fill="#bbdf83" stroke="#000" stroke-width="1.7"/>
<rect x="702.85" y="1580.35" width="26.30" height="309.55" fill="#ddb173" stroke="#000" stroke-width="1.7"/>
<rect x="743.35" y="1633.35" width="26.55" height="256.55" fill="#e0747c" stroke="#000" stroke-width="1.7"/>
<rect x="784.60" y="1728.35" width="26.30" height="161.55" fill="#e891e8" stroke="#000" stroke-width="1.7"/>
<rect x="825.35" y="1731.35" width="26.30" height="158.55" fill="#a488d3" stroke="#000" stroke-width="1.7"/>
<rect x="866.35" y="1738.35" width="26.55" height="151.55" fill="#5563a0" stroke="#000" stroke-width="1.7"/>
<line x1="606.75" y1="1472.20" x2="606.75" y2="1891.20" stroke="#111" stroke-width="2.6" stroke-linecap="butt"/>
<line x1="592.25" y1="1889.90" x2="909.25" y2="1889.90" stroke="#111" stroke-width="2.6" stroke-linecap="butt"/>
<line x1="592.25" y1="1473.50" x2="606.75" y2="1473.50" stroke="#111" stroke-width="2.6" stroke-linecap="butt"/>
<text text-anchor="end" fill="#000" stroke="#000" stroke-width="0.35" style="font-size:30.8px;letter-spacing:-0.85px;" transform="translate(589.95 1485.70)">40</text>
<line x1="592.25" y1="1578.00" x2="606.75" y2="1578.00" stroke="#111" stroke-width="2.6" stroke-linecap="butt"/>
<text text-anchor="end" fill="#000" stroke="#000" stroke-width="0.35" style="font-size:30.8px;letter-spacing:-0.85px;" transform="translate(589.95 1590.20)">30</text>
<line x1="592.25" y1="1681.75" x2="606.75" y2="1681.75" stroke="#111" stroke-width="2.6" stroke-linecap="butt"/>
<text text-anchor="end" fill="#000" stroke="#000" stroke-width="0.35" style="font-size:30.8px;letter-spacing:-0.85px;" transform="translate(589.95 1693.95)">20</text>
<line x1="592.25" y1="1785.75" x2="606.75" y2="1785.75" stroke="#111" stroke-width="2.6" stroke-linecap="butt"/>
<text text-anchor="end" fill="#000" stroke="#000" stroke-width="0.35" style="font-size:30.8px;letter-spacing:-0.85px;" transform="translate(589.95 1797.95)">10</text>
<line x1="592.25" y1="1889.90" x2="606.75" y2="1889.90" stroke="#111" stroke-width="2.6" stroke-linecap="butt"/>
<text text-anchor="end" fill="#000" stroke="#000" stroke-width="0.35" style="font-size:30.8px;letter-spacing:-0.85px;" transform="translate(589.95 1902.10)">0</text>
<line x1="634.25" y1="1889.90" x2="634.25" y2="1905.40" stroke="#111" stroke-width="2.6" stroke-linecap="butt"/>
<line x1="675.00" y1="1889.90" x2="675.00" y2="1905.40" stroke="#111" stroke-width="2.6" stroke-linecap="butt"/>
<line x1="715.75" y1="1889.90" x2="715.75" y2="1905.40" stroke="#111" stroke-width="2.6" stroke-linecap="butt"/>
<line x1="757.00" y1="1889.90" x2="757.00" y2="1905.40" stroke="#111" stroke-width="2.6" stroke-linecap="butt"/>
<line x1="798.00" y1="1889.90" x2="798.00" y2="1905.40" stroke="#111" stroke-width="2.6" stroke-linecap="butt"/>
<line x1="838.75" y1="1889.90" x2="838.75" y2="1905.40" stroke="#111" stroke-width="2.6" stroke-linecap="butt"/>
<line x1="879.50" y1="1889.90" x2="879.50" y2="1905.40" stroke="#111" stroke-width="2.6" stroke-linecap="butt"/>
<line x1="634.00" y1="1724.25" x2="634.00" y2="1754.25" stroke="#000" stroke-width="2.6" stroke-linecap="butt"/>
<line x1="626.90" y1="1724.25" x2="641.10" y2="1724.25" stroke="#000" stroke-width="2.6" stroke-linecap="round"/>
<line x1="626.90" y1="1754.25" x2="641.10" y2="1754.25" stroke="#000" stroke-width="2.6" stroke-linecap="round"/>
<line x1="675.00" y1="1548.75" x2="675.00" y2="1605.50" stroke="#000" stroke-width="2.6" stroke-linecap="butt"/>
<line x1="667.90" y1="1548.75" x2="682.10" y2="1548.75" stroke="#000" stroke-width="2.6" stroke-linecap="round"/>
<line x1="667.90" y1="1605.50" x2="682.10" y2="1605.50" stroke="#000" stroke-width="2.6" stroke-linecap="round"/>
<line x1="716.00" y1="1550.00" x2="716.00" y2="1608.75" stroke="#000" stroke-width="2.6" stroke-linecap="butt"/>
<line x1="708.90" y1="1550.00" x2="723.10" y2="1550.00" stroke="#000" stroke-width="2.6" stroke-linecap="round"/>
<line x1="708.90" y1="1608.75" x2="723.10" y2="1608.75" stroke="#000" stroke-width="2.6" stroke-linecap="round"/>
<line x1="756.62" y1="1613.25" x2="756.62" y2="1652.50" stroke="#000" stroke-width="2.6" stroke-linecap="butt"/>
<line x1="749.52" y1="1613.25" x2="763.73" y2="1613.25" stroke="#000" stroke-width="2.6" stroke-linecap="round"/>
<line x1="749.52" y1="1652.50" x2="763.73" y2="1652.50" stroke="#000" stroke-width="2.6" stroke-linecap="round"/>
<line x1="797.75" y1="1691.25" x2="797.75" y2="1764.50" stroke="#000" stroke-width="2.6" stroke-linecap="butt"/>
<line x1="790.65" y1="1691.25" x2="804.85" y2="1691.25" stroke="#000" stroke-width="2.6" stroke-linecap="round"/>
<line x1="790.65" y1="1764.50" x2="804.85" y2="1764.50" stroke="#000" stroke-width="2.6" stroke-linecap="round"/>
<line x1="838.50" y1="1715.00" x2="838.50" y2="1746.25" stroke="#000" stroke-width="2.6" stroke-linecap="butt"/>
<line x1="831.40" y1="1715.00" x2="845.60" y2="1715.00" stroke="#000" stroke-width="2.6" stroke-linecap="round"/>
<line x1="831.40" y1="1746.25" x2="845.60" y2="1746.25" stroke="#000" stroke-width="2.6" stroke-linecap="round"/>
<line x1="879.62" y1="1722.00" x2="879.62" y2="1753.00" stroke="#000" stroke-width="2.6" stroke-linecap="butt"/>
<line x1="872.52" y1="1722.00" x2="886.73" y2="1722.00" stroke="#000" stroke-width="2.6" stroke-linecap="round"/>
<line x1="872.52" y1="1753.00" x2="886.73" y2="1753.00" stroke="#000" stroke-width="2.6" stroke-linecap="round"/>
<text x="681.12" y="1544.40" fill="#000" transform="rotate(-90 681.12 1544.40)" style="font-family:'DejaVu Sans',sans-serif;font-size:17.0px;letter-spacing:0.77px">★★★★</text>
<text x="721.62" y="1547.15" fill="#000" transform="rotate(-90 721.62 1547.15)" style="font-family:'DejaVu Sans',sans-serif;font-size:17.0px;letter-spacing:0.43px">★★★★</text>
<text x="762.12" y="1607.15" fill="#000" transform="rotate(-90 762.12 1607.15)" style="font-family:'DejaVu Sans',sans-serif;font-size:17.0px;letter-spacing:0.60px">★★★★</text>
<text text-anchor="middle" fill="#000" stroke="#000" stroke-width="0.35" style="font-size:29.6px;letter-spacing:-0.5px;" transform="translate(800.75 1674.25)">ns</text>
<text text-anchor="middle" fill="#000" stroke="#000" stroke-width="0.35" style="font-size:29.6px;letter-spacing:-0.5px;" transform="translate(841.25 1696.75)">ns</text>
<text text-anchor="middle" fill="#000" stroke="#000" stroke-width="0.35" style="font-size:29.6px;letter-spacing:-0.5px;" transform="translate(881.25 1712.50)">ns</text>
<text text-anchor="middle" fill="#000" stroke="#000" stroke-width="0.35" style="font-size:29.6px;letter-spacing:-0.8px;" transform="translate(543.80 1685.50) rotate(-90) scale(1 1.02)">Pausing time(%) SYT1-GFP</text>
<text text-anchor="end" fill="#000" stroke="#000" stroke-width="0.35" style="font-size:29.6px;letter-spacing:-0.2px;font-kerning:none;" transform="translate(642.45 1927.70) rotate(-45)">Control</text>
<text text-anchor="end" fill="#000" stroke="#000" stroke-width="0.35" style="font-size:29.6px;letter-spacing:-0.2px;font-kerning:none;" transform="translate(683.20 1927.70) rotate(-45)">Elp1 KD </text>
<text text-anchor="end" fill="#000" stroke="#000" stroke-width="0.35" style="font-size:29.6px;letter-spacing:-0.2px;font-kerning:none;" transform="translate(723.95 1927.70) rotate(-45)">Elp3 KD</text>
<text text-anchor="end" fill="#000" stroke="#000" stroke-width="0.35" style="font-size:29.6px;letter-spacing:-0.2px;font-kerning:none;" transform="translate(765.20 1927.70) rotate(-45)">Elp3;Atat1 KD</text>
<text text-anchor="end" fill="#000" stroke="#000" stroke-width="0.35" style="font-size:29.6px;letter-spacing:-0.2px;font-kerning:none;" transform="translate(806.20 1927.70) rotate(-45)">Elp3 KD+ELP3   </text>
<text text-anchor="end" fill="#000" stroke="#000" stroke-width="0.35" style="font-size:29.6px;letter-spacing:-0.2px;font-kerning:none;" transform="translate(846.95 1927.70) rotate(-45)">Elp1;Hdac6 KD </text>
<text text-anchor="end" fill="#000" stroke="#000" stroke-width="0.35" style="font-size:29.6px;letter-spacing:-0.2px;font-kerning:none;" transform="translate(887.70 1927.70) rotate(-45)">Elp3;Hdac6 KD</text>
<rect x="1127.60" y="1613.85" width="27.05" height="275.35" fill="#7b9fd4" stroke="#000" stroke-width="1.7"/>
<rect x="1168.85" y="1712.85" width="26.80" height="176.35" fill="#bbdf83" stroke="#000" stroke-width="1.7"/>
<rect x="1209.60" y="1715.85" width="26.80" height="173.35" fill="#ddb173" stroke="#000" stroke-width="1.7"/>
<rect x="1250.10" y="1755.35" width="27.05" height="133.85" fill="#e0747c" stroke="#000" stroke-width="1.7"/>
<rect x="1291.35" y="1624.10" width="26.80" height="265.10" fill="#d495c6" stroke="#000" stroke-width="1.7"/>
<rect x="1331.60" y="1640.85" width="26.80" height="248.35" fill="#a98ac6" stroke="#000" stroke-width="1.7"/>
<rect x="1372.60" y="1630.85" width="26.80" height="258.35" fill="#5563a0" stroke="#000" stroke-width="1.7"/>
<line x1="1113.75" y1="1473.70" x2="1113.75" y2="1890.50" stroke="#111" stroke-width="2.6" stroke-linecap="butt"/>
<line x1="1099.25" y1="1889.20" x2="1414.25" y2="1889.20" stroke="#111" stroke-width="2.6" stroke-linecap="butt"/>
<line x1="1099.25" y1="1475.30" x2="1113.75" y2="1475.30" stroke="#111" stroke-width="2.6" stroke-linecap="butt"/>
<text text-anchor="end" fill="#000" stroke="#000" stroke-width="0.35" style="font-size:30.8px;letter-spacing:-0.85px;" transform="translate(1096.95 1487.50)">1.4</text>
<line x1="1099.25" y1="1534.90" x2="1113.75" y2="1534.90" stroke="#111" stroke-width="2.6" stroke-linecap="butt"/>
<text text-anchor="end" fill="#000" stroke="#000" stroke-width="0.35" style="font-size:30.8px;letter-spacing:-0.85px;" transform="translate(1096.95 1547.10)">1.2</text>
<line x1="1099.25" y1="1593.70" x2="1113.75" y2="1593.70" stroke="#111" stroke-width="2.6" stroke-linecap="butt"/>
<text text-anchor="end" fill="#000" stroke="#000" stroke-width="0.35" style="font-size:30.8px;letter-spacing:-0.85px;" transform="translate(1096.95 1605.90)">1.0</text>
<line x1="1099.25" y1="1653.00" x2="1113.75" y2="1653.00" stroke="#111" stroke-width="2.6" stroke-linecap="butt"/>
<text text-anchor="end" fill="#000" stroke="#000" stroke-width="0.35" style="font-size:30.8px;letter-spacing:-0.85px;" transform="translate(1096.95 1665.20)">0.8</text>
<line x1="1099.25" y1="1712.20" x2="1113.75" y2="1712.20" stroke="#111" stroke-width="2.6" stroke-linecap="butt"/>
<text text-anchor="end" fill="#000" stroke="#000" stroke-width="0.35" style="font-size:30.8px;letter-spacing:-0.85px;" transform="translate(1096.95 1724.40)">0.6</text>
<line x1="1099.25" y1="1771.20" x2="1113.75" y2="1771.20" stroke="#111" stroke-width="2.6" stroke-linecap="butt"/>
<text text-anchor="end" fill="#000" stroke="#000" stroke-width="0.35" style="font-size:30.8px;letter-spacing:-0.85px;" transform="translate(1096.95 1783.40)">0.4</text>
<line x1="1099.25" y1="1830.10" x2="1113.75" y2="1830.10" stroke="#111" stroke-width="2.6" stroke-linecap="butt"/>
<text text-anchor="end" fill="#000" stroke="#000" stroke-width="0.35" style="font-size:30.8px;letter-spacing:-0.85px;" transform="translate(1096.95 1842.30)">0.2</text>
<line x1="1099.25" y1="1889.20" x2="1113.75" y2="1889.20" stroke="#111" stroke-width="2.6" stroke-linecap="butt"/>
<text text-anchor="end" fill="#000" stroke="#000" stroke-width="0.35" style="font-size:30.8px;letter-spacing:-0.85px;" transform="translate(1096.95 1901.40)">0.0</text>
<line x1="1141.30" y1="1889.20" x2="1141.30" y2="1904.70" stroke="#111" stroke-width="2.6" stroke-linecap="butt"/>
<line x1="1181.80" y1="1889.20" x2="1181.80" y2="1904.70" stroke="#111" stroke-width="2.6" stroke-linecap="butt"/>
<line x1="1223.00" y1="1889.20" x2="1223.00" y2="1904.70" stroke="#111" stroke-width="2.6" stroke-linecap="butt"/>
<line x1="1263.50" y1="1889.20" x2="1263.50" y2="1904.70" stroke="#111" stroke-width="2.6" stroke-linecap="butt"/>
<line x1="1304.30" y1="1889.20" x2="1304.30" y2="1904.70" stroke="#111" stroke-width="2.6" stroke-linecap="butt"/>
<line x1="1345.00" y1="1889.20" x2="1345.00" y2="1904.70" stroke="#111" stroke-width="2.6" stroke-linecap="butt"/>
<line x1="1385.50" y1="1889.20" x2="1385.50" y2="1904.70" stroke="#111" stroke-width="2.6" stroke-linecap="butt"/>
<line x1="1140.62" y1="1607.50" x2="1140.62" y2="1618.25" stroke="#000" stroke-width="2.6" stroke-linecap="butt"/>
<line x1="1134.02" y1="1607.50" x2="1147.23" y2="1607.50" stroke="#000" stroke-width="2.6" stroke-linecap="round"/>
<line x1="1134.02" y1="1618.25" x2="1147.23" y2="1618.25" stroke="#000" stroke-width="2.6" stroke-linecap="round"/>
<line x1="1181.75" y1="1703.25" x2="1181.75" y2="1720.75" stroke="#000" stroke-width="2.6" stroke-linecap="butt"/>
<line x1="1175.15" y1="1703.25" x2="1188.35" y2="1703.25" stroke="#000" stroke-width="2.6" stroke-linecap="round"/>
<line x1="1175.15" y1="1720.75" x2="1188.35" y2="1720.75" stroke="#000" stroke-width="2.6" stroke-linecap="round"/>
<line x1="1222.50" y1="1700.75" x2="1222.50" y2="1730.00" stroke="#000" stroke-width="2.6" stroke-linecap="butt"/>
<line x1="1215.90" y1="1700.75" x2="1229.10" y2="1700.75" stroke="#000" stroke-width="2.6" stroke-linecap="round"/>
<line x1="1215.90" y1="1730.00" x2="1229.10" y2="1730.00" stroke="#000" stroke-width="2.6" stroke-linecap="round"/>
<line x1="1263.12" y1="1740.75" x2="1263.12" y2="1768.00" stroke="#000" stroke-width="2.6" stroke-linecap="butt"/>
<line x1="1256.52" y1="1740.75" x2="1269.73" y2="1740.75" stroke="#000" stroke-width="2.6" stroke-linecap="round"/>
<line x1="1256.52" y1="1768.00" x2="1269.73" y2="1768.00" stroke="#000" stroke-width="2.6" stroke-linecap="round"/>
<line x1="1304.25" y1="1611.25" x2="1304.25" y2="1635.50" stroke="#000" stroke-width="2.6" stroke-linecap="butt"/>
<line x1="1297.65" y1="1611.25" x2="1310.85" y2="1611.25" stroke="#000" stroke-width="2.6" stroke-linecap="round"/>
<line x1="1297.65" y1="1635.50" x2="1310.85" y2="1635.50" stroke="#000" stroke-width="2.6" stroke-linecap="round"/>
<line x1="1344.50" y1="1632.50" x2="1344.50" y2="1648.00" stroke="#000" stroke-width="2.6" stroke-linecap="butt"/>
<line x1="1337.90" y1="1632.50" x2="1351.10" y2="1632.50" stroke="#000" stroke-width="2.6" stroke-linecap="round"/>
<line x1="1337.90" y1="1648.00" x2="1351.10" y2="1648.00" stroke="#000" stroke-width="2.6" stroke-linecap="round"/>
<line x1="1385.50" y1="1625.75" x2="1385.50" y2="1635.00" stroke="#000" stroke-width="2.6" stroke-linecap="butt"/>
<line x1="1378.90" y1="1625.75" x2="1392.10" y2="1625.75" stroke="#000" stroke-width="2.6" stroke-linecap="round"/>
<line x1="1378.90" y1="1635.00" x2="1392.10" y2="1635.00" stroke="#000" stroke-width="2.6" stroke-linecap="round"/>
<text x="1187.87" y="1653.90" fill="#000" transform="rotate(-90 1187.87 1653.90)" style="font-family:'DejaVu Sans',sans-serif;font-size:17.0px;letter-spacing:0.43px">★★★★</text>
<text x="1227.87" y="1653.90" fill="#000" transform="rotate(-90 1227.87 1653.90)" style="font-family:'DejaVu Sans',sans-serif;font-size:17.0px;letter-spacing:0.43px">★★★★</text>
<text x="1269.87" y="1690.15" fill="#000" transform="rotate(-90 1269.87 1690.15)" style="font-family:'DejaVu Sans',sans-serif;font-size:17.0px;letter-spacing:0.60px">★★★★</text>
<text text-anchor="middle" fill="#000" stroke="#000" stroke-width="0.35" style="font-size:29.6px;letter-spacing:-0.5px;" transform="translate(1239.50 1553.75)">ns</text>
<text text-anchor="middle" fill="#000" stroke="#000" stroke-width="0.35" style="font-size:29.6px;letter-spacing:-0.5px;" transform="translate(1303.75 1580.00)">ns</text>
<text text-anchor="middle" fill="#000" stroke="#000" stroke-width="0.35" style="font-size:29.6px;letter-spacing:-0.5px;" transform="translate(1347.00 1595.50)">ns</text>
<text text-anchor="middle" fill="#000" stroke="#000" stroke-width="0.35" style="font-size:29.6px;letter-spacing:-0.5px;" transform="translate(1383.75 1583.25)">ns</text>
<path d="M1218.75 1582 V1568.75 H1258.25 V1587.5" fill="none" stroke="#111" stroke-width="1.6"/>
<text text-anchor="middle" fill="#000" stroke="#000" stroke-width="0.35" style="font-size:29.6px;letter-spacing:-0.8px;" transform="translate(1043.00 1685.50) rotate(-90) scale(1 1.02)">Climbing Index</text>
<text text-anchor="end" fill="#000" stroke="#000" stroke-width="0.35" style="font-size:29.6px;letter-spacing:-0.2px;font-style:italic;font-kerning:none;" transform="translate(1151.30 1925.20) rotate(-45)">Control</text>
<text text-anchor="end" fill="#000" stroke="#000" stroke-width="0.35" style="font-size:29.6px;letter-spacing:-0.2px;font-style:italic;font-kerning:none;" transform="translate(1191.80 1925.20) rotate(-45)">Elp1 KD</text>
<text text-anchor="end" fill="#000" stroke="#000" stroke-width="0.35" style="font-size:29.6px;letter-spacing:-0.2px;font-style:italic;font-kerning:none;" transform="translate(1233.00 1925.20) rotate(-45)">Elp3 KD</text>
<text text-anchor="end" fill="#000" stroke="#000" stroke-width="0.35" style="font-size:29.6px;letter-spacing:-0.2px;font-style:italic;font-kerning:none;" transform="translate(1273.50 1925.20) rotate(-45)">Elp3;Atat1 KD</text>
<text text-anchor="end" fill="#000" stroke="#000" stroke-width="0.35" style="font-size:29.6px;letter-spacing:-0.2px;font-style:italic;font-kerning:none;" transform="translate(1314.30 1925.20) rotate(-45)">Elp3 KD+ELP3 </text>
<text text-anchor="end" fill="#000" stroke="#000" stroke-width="0.35" style="font-size:29.6px;letter-spacing:-0.2px;font-style:italic;font-kerning:none;" transform="translate(1355.00 1925.20) rotate(-45)">Elp1;Hdac6 KD </text>
<text text-anchor="end" fill="#000" stroke="#000" stroke-width="0.35" style="font-size:29.6px;letter-spacing:-0.2px;font-style:italic;font-kerning:none;" transform="translate(1395.50 1925.20) rotate(-45)">Elp3;Hdac6 KD</text>
<circle cx="1134.25" cy="1653.75" r="5.6" fill="#8eb4e3" stroke="#000" stroke-width="1.4"/>
<circle cx="1148.00" cy="1653.75" r="5.6" fill="#8eb4e3" stroke="#000" stroke-width="1.4"/>
<circle cx="1136.25" cy="1632.50" r="5.6" fill="#8eb4e3" stroke="#000" stroke-width="1.4"/>
<circle cx="1143.75" cy="1632.50" r="5.6" fill="#8eb4e3" stroke="#000" stroke-width="1.4"/>
<circle cx="1132.50" cy="1622.50" r="5.6" fill="#8eb4e3" stroke="#000" stroke-width="1.4"/>
<circle cx="1148.75" cy="1622.50" r="5.6" fill="#8eb4e3" stroke="#000" stroke-width="1.4"/>
<circle cx="1140.00" cy="1615.00" r="5.6" fill="#8eb4e3" stroke="#000" stroke-width="1.4"/>
<circle cx="1135.00" cy="1606.25" r="5.6" fill="#8eb4e3" stroke="#000" stroke-width="1.4"/>
<circle cx="1146.25" cy="1606.25" r="5.6" fill="#8eb4e3" stroke="#000" stroke-width="1.4"/>
<circle cx="1132.50" cy="1593.75" r="5.6" fill="#8eb4e3" stroke="#000" stroke-width="1.4"/>
<circle cx="1137.50" cy="1593.75" r="5.6" fill="#8eb4e3" stroke="#000" stroke-width="1.4"/>
<circle cx="1142.50" cy="1593.75" r="5.6" fill="#8eb4e3" stroke="#000" stroke-width="1.4"/>
<circle cx="1147.00" cy="1593.75" r="5.6" fill="#8eb4e3" stroke="#000" stroke-width="1.4"/>
<circle cx="1150.00" cy="1593.75" r="5.6" fill="#8eb4e3" stroke="#000" stroke-width="1.4"/>
<circle cx="1174.25" cy="1691.25" r="5.6" fill="#c4e38f" stroke="#000" stroke-width="1.4"/>
<circle cx="1188.75" cy="1691.25" r="5.6" fill="#c4e38f" stroke="#000" stroke-width="1.4"/>
<circle cx="1175.00" cy="1722.50" r="5.6" fill="#c4e38f" stroke="#000" stroke-width="1.4"/>
<circle cx="1181.75" cy="1720.75" r="5.6" fill="#c4e38f" stroke="#000" stroke-width="1.4"/>
<circle cx="1181.25" cy="1730.00" r="5.6" fill="#c4e38f" stroke="#000" stroke-width="1.4"/>
<circle cx="1188.25" cy="1730.00" r="5.6" fill="#c4e38f" stroke="#000" stroke-width="1.4"/>
<circle cx="1215.00" cy="1668.00" r="5.6" fill="#ecbb78" stroke="#000" stroke-width="1.4"/>
<circle cx="1229.25" cy="1682.50" r="5.6" fill="#ecbb78" stroke="#000" stroke-width="1.4"/>
<circle cx="1222.50" cy="1712.00" r="5.6" fill="#ecbb78" stroke="#000" stroke-width="1.4"/>
<circle cx="1215.00" cy="1730.00" r="5.6" fill="#ecbb78" stroke="#000" stroke-width="1.4"/>
<circle cx="1229.25" cy="1738.75" r="5.6" fill="#ecbb78" stroke="#000" stroke-width="1.4"/>
<circle cx="1222.50" cy="1761.75" r="5.6" fill="#ecbb78" stroke="#000" stroke-width="1.4"/>
<circle cx="1255.75" cy="1703.75" r="5.6" fill="#ee8288" stroke="#000" stroke-width="1.4"/>
<circle cx="1270.00" cy="1709.25" r="5.6" fill="#ee8288" stroke="#000" stroke-width="1.4"/>
<circle cx="1263.00" cy="1753.25" r="5.6" fill="#ee8288" stroke="#000" stroke-width="1.4"/>
<circle cx="1255.75" cy="1760.00" r="5.6" fill="#ee8288" stroke="#000" stroke-width="1.4"/>
<circle cx="1270.00" cy="1774.25" r="5.6" fill="#ee8288" stroke="#000" stroke-width="1.4"/>
<circle cx="1255.75" cy="1792.00" r="5.6" fill="#ee8288" stroke="#000" stroke-width="1.4"/>
<circle cx="1270.00" cy="1792.00" r="5.6" fill="#ee8288" stroke="#000" stroke-width="1.4"/>
<circle cx="1303.75" cy="1593.75" r="5.6" fill="#e3a0d0" stroke="#000" stroke-width="1.4"/>
<circle cx="1297.00" cy="1601.25" r="5.6" fill="#e3a0d0" stroke="#000" stroke-width="1.4"/>
<circle cx="1310.50" cy="1614.50" r="5.6" fill="#e3a0d0" stroke="#000" stroke-width="1.4"/>
<circle cx="1303.75" cy="1620.00" r="5.6" fill="#e3a0d0" stroke="#000" stroke-width="1.4"/>
<circle cx="1303.75" cy="1638.75" r="5.6" fill="#e3a0d0" stroke="#000" stroke-width="1.4"/>
<circle cx="1303.75" cy="1673.75" r="5.6" fill="#e3a0d0" stroke="#000" stroke-width="1.4"/>
<circle cx="1337.50" cy="1622.00" r="5.6" fill="#b595d2" stroke="#000" stroke-width="1.4"/>
<circle cx="1344.50" cy="1622.00" r="5.6" fill="#b595d2" stroke="#000" stroke-width="1.4"/>
<circle cx="1351.25" cy="1622.00" r="5.6" fill="#b595d2" stroke="#000" stroke-width="1.4"/>
<circle cx="1337.50" cy="1633.75" r="5.6" fill="#b595d2" stroke="#000" stroke-width="1.4"/>
<circle cx="1344.50" cy="1641.25" r="5.6" fill="#b595d2" stroke="#000" stroke-width="1.4"/>
<circle cx="1351.25" cy="1663.25" r="5.6" fill="#b595d2" stroke="#000" stroke-width="1.4"/>
<circle cx="1337.50" cy="1672.50" r="5.6" fill="#b595d2" stroke="#000" stroke-width="1.4"/>
<circle cx="1378.00" cy="1611.25" r="5.6" fill="#5e6fb0" stroke="#000" stroke-width="1.4"/>
<circle cx="1392.50" cy="1623.25" r="5.6" fill="#5e6fb0" stroke="#000" stroke-width="1.4"/>
<circle cx="1378.00" cy="1632.50" r="5.6" fill="#5e6fb0" stroke="#000" stroke-width="1.4"/>
<circle cx="1385.00" cy="1631.25" r="5.6" fill="#5e6fb0" stroke="#000" stroke-width="1.4"/>
<circle cx="1392.50" cy="1633.75" r="5.6" fill="#5e6fb0" stroke="#000" stroke-width="1.4"/>
<circle cx="1378.00" cy="1641.25" r="5.6" fill="#5e6fb0" stroke="#000" stroke-width="1.4"/>
<circle cx="1390.00" cy="1641.25" r="5.6" fill="#5e6fb0" stroke="#000" stroke-width="1.4"/>
<circle cx="1382.50" cy="1643.75" r="5.6" fill="#5e6fb0" stroke="#000" stroke-width="1.4"/>
<rect x="1623.10" y="1528.35" width="26.90" height="361.35" fill="#7b9fd4" stroke="#000" stroke-width="1.7"/>
<rect x="1664.35" y="1677.10" width="26.40" height="212.60" fill="#bbdf83" stroke="#000" stroke-width="1.7"/>
<rect x="1704.85" y="1677.60" width="26.90" height="212.10" fill="#ddb173" stroke="#000" stroke-width="1.7"/>
<rect x="1746.10" y="1655.85" width="26.90" height="233.85" fill="#e0747c" stroke="#000" stroke-width="1.7"/>
<rect x="1786.85" y="1551.35" width="26.90" height="338.35" fill="#e891e8" stroke="#000" stroke-width="1.7"/>
<rect x="1827.85" y="1580.35" width="27.15" height="309.35" fill="#a488d3" stroke="#000" stroke-width="1.7"/>
<rect x="1868.60" y="1561.35" width="27.15" height="328.35" fill="#5563a0" stroke="#000" stroke-width="1.7"/>
<line x1="1608.80" y1="1472.45" x2="1608.80" y2="1891.00" stroke="#111" stroke-width="2.6" stroke-linecap="butt"/>
<line x1="1594.30" y1="1889.70" x2="1911.50" y2="1889.70" stroke="#111" stroke-width="2.6" stroke-linecap="butt"/>
<line x1="1594.30" y1="1474.00" x2="1608.80" y2="1474.00" stroke="#111" stroke-width="2.6" stroke-linecap="butt"/>
<text text-anchor="end" fill="#000" stroke="#000" stroke-width="0.35" style="font-size:30.8px;letter-spacing:-0.85px;" transform="translate(1592.00 1486.20)">10</text>
<line x1="1594.30" y1="1557.30" x2="1608.80" y2="1557.30" stroke="#111" stroke-width="2.6" stroke-linecap="butt"/>
<text text-anchor="end" fill="#000" stroke="#000" stroke-width="0.35" style="font-size:30.8px;letter-spacing:-0.85px;" transform="translate(1592.00 1569.50)">8</text>
<line x1="1594.30" y1="1640.40" x2="1608.80" y2="1640.40" stroke="#111" stroke-width="2.6" stroke-linecap="butt"/>
<text text-anchor="end" fill="#000" stroke="#000" stroke-width="0.35" style="font-size:30.8px;letter-spacing:-0.85px;" transform="translate(1592.00 1652.60)">6</text>
<line x1="1594.30" y1="1723.50" x2="1608.80" y2="1723.50" stroke="#111" stroke-width="2.6" stroke-linecap="butt"/>
<text text-anchor="end" fill="#000" stroke="#000" stroke-width="0.35" style="font-size:30.8px;letter-spacing:-0.85px;" transform="translate(1592.00 1735.70)">4</text>
<line x1="1594.30" y1="1806.70" x2="1608.80" y2="1806.70" stroke="#111" stroke-width="2.6" stroke-linecap="butt"/>
<text text-anchor="end" fill="#000" stroke="#000" stroke-width="0.35" style="font-size:30.8px;letter-spacing:-0.85px;" transform="translate(1592.00 1818.90)">2</text>
<line x1="1594.30" y1="1889.70" x2="1608.80" y2="1889.70" stroke="#111" stroke-width="2.6" stroke-linecap="butt"/>
<text text-anchor="end" fill="#000" stroke="#000" stroke-width="0.35" style="font-size:30.8px;letter-spacing:-0.85px;" transform="translate(1592.00 1901.90)">0</text>
<line x1="1636.00" y1="1889.70" x2="1636.00" y2="1905.20" stroke="#111" stroke-width="2.6" stroke-linecap="butt"/>
<line x1="1677.00" y1="1889.70" x2="1677.00" y2="1905.20" stroke="#111" stroke-width="2.6" stroke-linecap="butt"/>
<line x1="1717.75" y1="1889.70" x2="1717.75" y2="1905.20" stroke="#111" stroke-width="2.6" stroke-linecap="butt"/>
<line x1="1758.50" y1="1889.70" x2="1758.50" y2="1905.20" stroke="#111" stroke-width="2.6" stroke-linecap="butt"/>
<line x1="1799.75" y1="1889.70" x2="1799.75" y2="1905.20" stroke="#111" stroke-width="2.6" stroke-linecap="butt"/>
<line x1="1840.75" y1="1889.70" x2="1840.75" y2="1905.20" stroke="#111" stroke-width="2.6" stroke-linecap="butt"/>
<line x1="1881.50" y1="1889.70" x2="1881.50" y2="1905.20" stroke="#111" stroke-width="2.6" stroke-linecap="butt"/>
<line x1="1636.25" y1="1520.75" x2="1636.25" y2="1534.25" stroke="#000" stroke-width="2.6" stroke-linecap="butt"/>
<line x1="1629.15" y1="1520.75" x2="1643.35" y2="1520.75" stroke="#000" stroke-width="2.6" stroke-linecap="round"/>
<line x1="1629.15" y1="1534.25" x2="1643.35" y2="1534.25" stroke="#000" stroke-width="2.6" stroke-linecap="round"/>
<line x1="1677.25" y1="1668.00" x2="1677.25" y2="1684.50" stroke="#000" stroke-width="2.6" stroke-linecap="butt"/>
<line x1="1670.15" y1="1668.00" x2="1684.35" y2="1668.00" stroke="#000" stroke-width="2.6" stroke-linecap="round"/>
<line x1="1670.15" y1="1684.50" x2="1684.35" y2="1684.50" stroke="#000" stroke-width="2.6" stroke-linecap="round"/>
<line x1="1718.00" y1="1668.00" x2="1718.00" y2="1685.50" stroke="#000" stroke-width="2.6" stroke-linecap="butt"/>
<line x1="1710.90" y1="1668.00" x2="1725.10" y2="1668.00" stroke="#000" stroke-width="2.6" stroke-linecap="round"/>
<line x1="1710.90" y1="1685.50" x2="1725.10" y2="1685.50" stroke="#000" stroke-width="2.6" stroke-linecap="round"/>
<line x1="1759.25" y1="1650.00" x2="1759.25" y2="1660.50" stroke="#000" stroke-width="2.6" stroke-linecap="butt"/>
<line x1="1752.15" y1="1650.00" x2="1766.35" y2="1650.00" stroke="#000" stroke-width="2.6" stroke-linecap="round"/>
<line x1="1752.15" y1="1660.50" x2="1766.35" y2="1660.50" stroke="#000" stroke-width="2.6" stroke-linecap="round"/>
<line x1="1800.00" y1="1544.25" x2="1800.00" y2="1557.50" stroke="#000" stroke-width="2.6" stroke-linecap="butt"/>
<line x1="1792.90" y1="1544.25" x2="1807.10" y2="1544.25" stroke="#000" stroke-width="2.6" stroke-linecap="round"/>
<line x1="1792.90" y1="1557.50" x2="1807.10" y2="1557.50" stroke="#000" stroke-width="2.6" stroke-linecap="round"/>
<line x1="1841.12" y1="1573.75" x2="1841.12" y2="1586.25" stroke="#000" stroke-width="2.6" stroke-linecap="butt"/>
<line x1="1834.02" y1="1573.75" x2="1848.23" y2="1573.75" stroke="#000" stroke-width="2.6" stroke-linecap="round"/>
<line x1="1834.02" y1="1586.25" x2="1848.23" y2="1586.25" stroke="#000" stroke-width="2.6" stroke-linecap="round"/>
<line x1="1881.88" y1="1554.25" x2="1881.88" y2="1567.00" stroke="#000" stroke-width="2.6" stroke-linecap="butt"/>
<line x1="1874.77" y1="1554.25" x2="1888.98" y2="1554.25" stroke="#000" stroke-width="2.6" stroke-linecap="round"/>
<line x1="1874.77" y1="1567.00" x2="1888.98" y2="1567.00" stroke="#000" stroke-width="2.6" stroke-linecap="round"/>
<text x="1683.37" y="1662.15" fill="#000" transform="rotate(-90 1683.37 1662.15)" style="font-family:'DejaVu Sans',sans-serif;font-size:17.0px;letter-spacing:0.60px">★★★★</text>
<text x="1723.62" y="1665.15" fill="#000" transform="rotate(-90 1723.62 1665.15)" style="font-family:'DejaVu Sans',sans-serif;font-size:17.0px;letter-spacing:0.43px">★★★★</text>
<text x="1764.12" y="1643.15" fill="#000" transform="rotate(-90 1764.12 1643.15)" style="font-family:'DejaVu Sans',sans-serif;font-size:17.0px;letter-spacing:0.60px">★★★★</text>
<text text-anchor="middle" fill="#000" stroke="#000" stroke-width="0.35" style="font-size:29.6px;letter-spacing:-0.5px;" transform="translate(1799.75 1529.50)">ns</text>
<text text-anchor="middle" fill="#000" stroke="#000" stroke-width="0.35" style="font-size:29.6px;letter-spacing:-0.5px;" transform="translate(1839.75 1559.25)">ns</text>
<text text-anchor="middle" fill="#000" stroke="#000" stroke-width="0.35" style="font-size:29.6px;letter-spacing:-0.5px;" transform="translate(1883.50 1546.25)">ns</text>
<text text-anchor="middle" fill="#000" stroke="#000" stroke-width="0.35" style="font-size:29.6px;letter-spacing:-0.8px;" transform="translate(1553.60 1737.40) rotate(-90) scale(1 1.02)">Crawling speed (mm/ Sec)</text>
<text text-anchor="end" fill="#000" stroke="#000" stroke-width="0.35" style="font-size:29.6px;letter-spacing:-0.2px;font-style:italic;font-kerning:none;" transform="translate(1645.80 1925.90) rotate(-45)">Control</text>
<text text-anchor="end" fill="#000" stroke="#000" stroke-width="0.35" style="font-size:29.6px;letter-spacing:-0.2px;font-style:italic;font-kerning:none;" transform="translate(1686.80 1925.90) rotate(-45)">Elp1 KD</text>
<text text-anchor="end" fill="#000" stroke="#000" stroke-width="0.35" style="font-size:29.6px;letter-spacing:-0.2px;font-style:italic;font-kerning:none;" transform="translate(1727.55 1925.90) rotate(-45)">Elp3 KD</text>
<text text-anchor="end" fill="#000" stroke="#000" stroke-width="0.35" style="font-size:29.6px;letter-spacing:-0.2px;font-style:italic;font-kerning:none;" transform="translate(1768.30 1925.90) rotate(-45)">Elp3;Atat1 KD</text>
<text text-anchor="end" fill="#000" stroke="#000" stroke-width="0.35" style="font-size:29.6px;letter-spacing:-0.2px;font-style:italic;font-kerning:none;" transform="translate(1809.55 1925.90) rotate(-45)">Elp3 KD+ELP3   </text>
<text text-anchor="end" fill="#000" stroke="#000" stroke-width="0.35" style="font-size:29.6px;letter-spacing:-0.2px;font-style:italic;font-kerning:none;" transform="translate(1850.55 1925.90) rotate(-45)">Elp1;Hdac6 KD </text>
<text text-anchor="end" fill="#000" stroke="#000" stroke-width="0.35" style="font-size:29.6px;letter-spacing:-0.2px;font-style:italic;font-kerning:none;" transform="translate(1891.30 1925.90) rotate(-45)">Elp3;Hdac6 KD</text>
<text text-anchor="start" fill="#000" stroke="#000" stroke-width="0.35" style="font-size:46px;letter-spacing:0px;" transform="translate(9.50 37.00)">a</text>
<text text-anchor="start" fill="#000" stroke="#000" stroke-width="0.35" style="font-size:46px;letter-spacing:0px;" transform="translate(634.00 32.50)">b</text>
<text text-anchor="start" fill="#000" stroke="#000" stroke-width="0.35" style="font-size:46px;letter-spacing:0px;" transform="translate(992.50 32.50)">c</text>
<text text-anchor="start" fill="#000" stroke="#000" stroke-width="0.35" style="font-size:46px;letter-spacing:0px;" transform="translate(1295.50 32.50)">d</text>
<text text-anchor="start" fill="#000" stroke="#000" stroke-width="0.35" style="font-size:46px;letter-spacing:0px;" transform="translate(1614.50 32.50)">e</text>
<text text-anchor="start" fill="#000" stroke="#000" stroke-width="0.35" style="font-size:46px;letter-spacing:0px;" transform="translate(10.50 767.50)">f</text>
<text text-anchor="start" fill="#000" stroke="#000" stroke-width="0.35" style="font-size:46px;letter-spacing:0px;" transform="translate(942.00 769.80)">g</text>
<text text-anchor="start" fill="#000" stroke="#000" stroke-width="0.35" style="font-size:46px;letter-spacing:0px;" transform="translate(1517.50 768.00)">h</text>
<text text-anchor="start" fill="#000" stroke="#000" stroke-width="0.35" style="font-size:46px;letter-spacing:0px;" transform="translate(-0.50 1450.00)">i</text>
<text text-anchor="start" fill="#000" stroke="#000" stroke-width="0.35" style="font-size:46px;letter-spacing:0px;" transform="translate(517.00 1450.00)">j</text>
<text text-anchor="start" fill="#000" stroke="#000" stroke-width="0.35" style="font-size:46px;letter-spacing:0px;" transform="translate(1013.50 1450.00)">k</text>
<text text-anchor="start" fill="#000" stroke="#000" stroke-width="0.35" style="font-size:46px;letter-spacing:0px;" transform="translate(1526.50 1450.00)">l</text>
</svg>
</body></html>
